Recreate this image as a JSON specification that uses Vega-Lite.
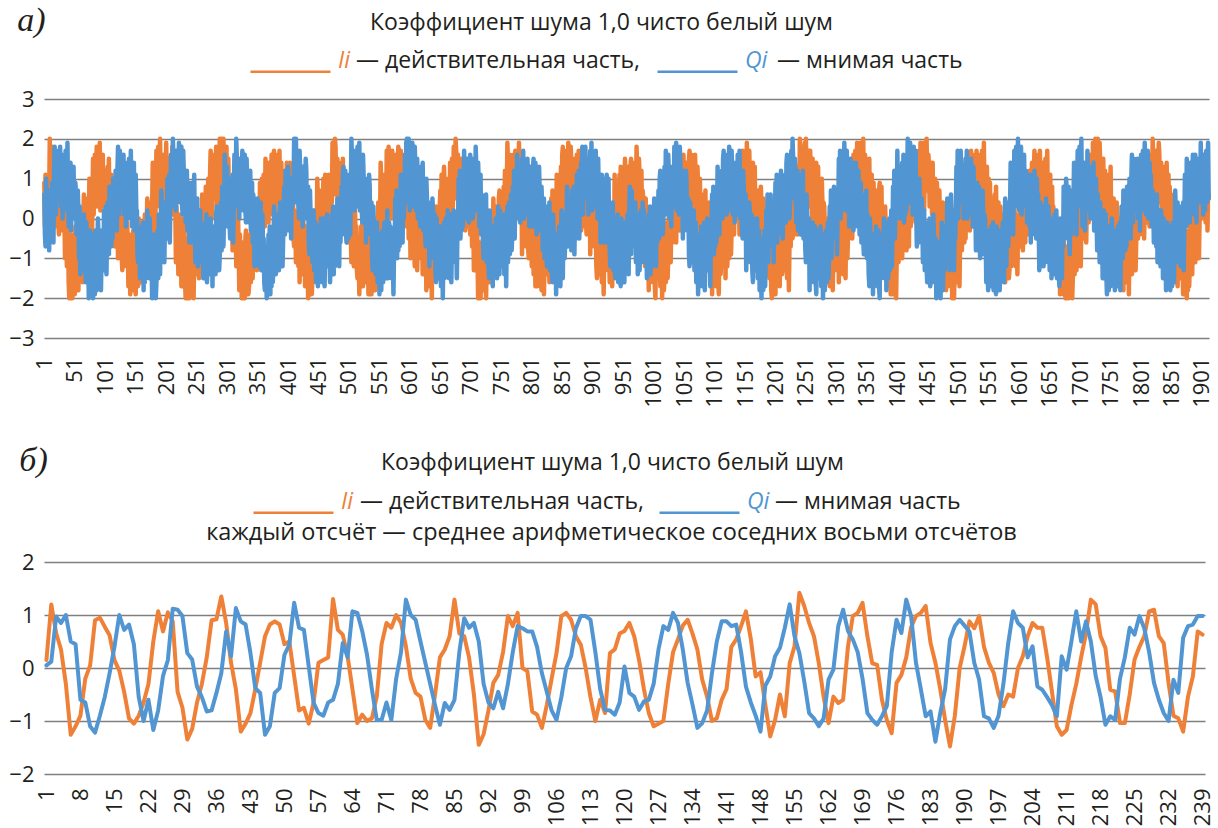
{
  "$schema": "https://vega.github.io/schema/vega-lite/v6.json",
  "background": "white",
  "padding": {"left": 8, "top": 3, "right": 3, "bottom": 0},
  "spacing": 35,
  "resolve": {"scale": {"color": "independent", "strokeDash": "independent"}},
  "config": {
    "font": "Open Sans",
    "view": {"stroke": null},
    "axis": {"labelColor": "#231F20", "titleColor": "#231F20"}
  },
  "datasets": {
    "raw": [
{"n":1,"I":0.9,"Q":0.6},{"n":2,"I":-0.2,"Q":-0.4},{"n":3,"I":1.1,"Q":-0.7},{"n":4,"I":-0.6,"Q":1.0},{"n":5,"I":0.4,"Q":0.5},{"n":6,"I":-0.4,"Q":-0.1},{"n":7,"I":0.7,"Q":-0.5},{"n":8,"I":-0.3,"Q":0.4},
{"n":9,"I":0.6,"Q":-0.8},{"n":10,"I":2.0,"Q":0.7},{"n":11,"I":1.0,"Q":0.4},{"n":12,"I":1.6,"Q":-0.3},{"n":13,"I":0.3,"Q":-0.1},{"n":14,"I":1.8,"Q":0.9},{"n":15,"I":0.9,"Q":0.6},{"n":16,"I":1.4,"Q":-0.6},
{"n":17,"I":1.0,"Q":1.2},{"n":18,"I":-0.2,"Q":1.8},{"n":19,"I":1.3,"Q":0.4},{"n":20,"I":1.5,"Q":0.1},{"n":21,"I":0.2,"Q":1.7},{"n":22,"I":0.5,"Q":1.1},{"n":23,"I":1.4,"Q":0.6},{"n":24,"I":-0.1,"Q":1.1},
{"n":25,"I":-0.4,"Q":0.5},{"n":26,"I":0.5,"Q":0.7},{"n":27,"I":0.9,"Q":1.8},{"n":28,"I":-0.3,"Q":0.3},{"n":29,"I":1.3,"Q":1.2},{"n":30,"I":0.7,"Q":1.5},{"n":31,"I":-0.2,"Q":0.0},{"n":32,"I":0.7,"Q":1.2},
{"n":33,"I":0.6,"Q":1.6},{"n":34,"I":0.1,"Q":0.2},{"n":35,"I":-1.0,"Q":1.1},{"n":36,"I":-0.6,"Q":1.7},{"n":37,"I":0.3,"Q":0.4},{"n":38,"I":-1.2,"Q":0.6},{"n":39,"I":-0.2,"Q":1.9},{"n":40,"I":-0.4,"Q":0.5},
{"n":41,"I":-1.6,"Q":-0.2},{"n":42,"I":-2.0,"Q":1.0},{"n":43,"I":-0.5,"Q":0.1},{"n":44,"I":-1.1,"Q":1.4},{"n":45,"I":-1.7,"Q":-0.3},{"n":46,"I":-0.4,"Q":0.7},{"n":47,"I":-2.0,"Q":1.1},{"n":48,"I":-1.0,"Q":0.2},
{"n":49,"I":-0.6,"Q":1.3},{"n":50,"I":-1.6,"Q":0.2},{"n":51,"I":-1.9,"Q":0.0},{"n":52,"I":-0.2,"Q":0.9},{"n":53,"I":-0.7,"Q":0.6},{"n":54,"I":-1.3,"Q":-0.4},{"n":55,"I":-1.7,"Q":0.7},{"n":56,"I":-0.8,"Q":0.7},
{"n":57,"I":-1.8,"Q":0.1},{"n":58,"I":-0.3,"Q":-1.0},{"n":59,"I":-0.6,"Q":0.3},{"n":60,"I":-1.3,"Q":-1.4},{"n":61,"I":-1.1,"Q":-0.4},{"n":62,"I":-0.1,"Q":-1.2},{"n":63,"I":-0.4,"Q":-0.1},{"n":64,"I":-1.6,"Q":-1.1},
{"n":65,"I":0.0,"Q":-1.3},{"n":66,"I":0.6,"Q":0.1},{"n":67,"I":-0.8,"Q":-0.9},{"n":68,"I":-1.1,"Q":-0.3},{"n":69,"I":0.5,"Q":-1.6},{"n":70,"I":-0.1,"Q":-0.1},{"n":71,"I":-0.6,"Q":-1.0},{"n":72,"I":-0.1,"Q":-0.5},
{"n":73,"I":-0.3,"Q":-0.8},{"n":74,"I":-0.1,"Q":-2.0},{"n":75,"I":1.0,"Q":-0.5},{"n":76,"I":-0.5,"Q":-0.3},{"n":77,"I":0.4,"Q":-1.6},{"n":78,"I":0.7,"Q":-1.3},{"n":79,"I":-0.8,"Q":-0.4},{"n":80,"I":0.4,"Q":-1.9},
{"n":81,"I":1.5,"Q":-2.0},{"n":82,"I":0.1,"Q":-1.1},{"n":83,"I":1.0,"Q":-0.7},{"n":84,"I":1.6,"Q":-1.9},{"n":85,"I":0.3,"Q":-0.3},{"n":86,"I":0.5,"Q":-0.9},{"n":87,"I":1.8,"Q":-1.8},{"n":88,"I":0.4,"Q":-0.9},
{"n":89,"I":0.3,"Q":0.0},{"n":90,"I":1.5,"Q":-0.5},{"n":91,"I":0.6,"Q":-1.6},{"n":92,"I":1.9,"Q":-1.2},{"n":93,"I":0.2,"Q":-0.3},{"n":94,"I":1.2,"Q":-1.8},{"n":95,"I":1.6,"Q":-0.8},{"n":96,"I":0.7,"Q":-1.0},
{"n":97,"I":1.6,"Q":-0.9},{"n":98,"I":0.5,"Q":-1.3},{"n":99,"I":0.3,"Q":0.2},{"n":100,"I":1.2,"Q":-0.4},{"n":101,"I":0.9,"Q":-1.0},{"n":102,"I":-0.1,"Q":0.3},{"n":103,"I":1.0,"Q":-1.4},{"n":104,"I":1.0,"Q":-0.3},
{"n":105,"I":1.3,"Q":0.4},{"n":106,"I":0.2,"Q":-0.6},{"n":107,"I":1.5,"Q":-0.9},{"n":108,"I":-0.2,"Q":0.8},{"n":109,"I":0.8,"Q":0.3},{"n":110,"I":0.0,"Q":-0.3},{"n":111,"I":1.1,"Q":-0.7},{"n":112,"I":0.1,"Q":0.2},
{"n":113,"I":-0.4,"Q":-0.5},{"n":114,"I":1.0,"Q":1.0},{"n":115,"I":0.0,"Q":0.7},{"n":116,"I":0.6,"Q":0.0},{"n":117,"I":-0.7,"Q":0.2},{"n":118,"I":0.8,"Q":1.2},{"n":119,"I":-0.1,"Q":0.9},{"n":120,"I":0.4,"Q":-0.3},
{"n":121,"I":0.2,"Q":1.2},{"n":122,"I":-1.0,"Q":1.8},{"n":123,"I":0.5,"Q":0.4},{"n":124,"I":0.7,"Q":0.1},{"n":125,"I":-0.6,"Q":1.7},{"n":126,"I":-0.3,"Q":1.1},{"n":127,"I":0.6,"Q":0.6},{"n":128,"I":-0.9,"Q":1.1},
{"n":129,"I":-1.3,"Q":0.3},{"n":130,"I":-0.4,"Q":0.5},{"n":131,"I":0.0,"Q":1.6},{"n":132,"I":-1.2,"Q":0.1},{"n":133,"I":0.4,"Q":1.0},{"n":134,"I":-0.2,"Q":1.3},{"n":135,"I":-1.1,"Q":-0.2},{"n":136,"I":-0.2,"Q":1.0},
{"n":137,"I":-0.1,"Q":1.4},{"n":138,"I":-0.6,"Q":0.0},{"n":139,"I":-1.7,"Q":0.9},{"n":140,"I":-1.3,"Q":1.5},{"n":141,"I":-0.4,"Q":0.2},{"n":142,"I":-1.9,"Q":0.4},{"n":143,"I":-0.9,"Q":1.7},{"n":144,"I":-1.1,"Q":0.3},
{"n":145,"I":-1.4,"Q":-0.2},{"n":146,"I":-1.8,"Q":1.0},{"n":147,"I":-0.3,"Q":0.1},{"n":148,"I":-0.9,"Q":1.4},{"n":149,"I":-1.5,"Q":-0.3},{"n":150,"I":-0.2,"Q":0.7},{"n":151,"I":-1.9,"Q":1.1},{"n":152,"I":-0.8,"Q":0.2},
{"n":153,"I":-0.4,"Q":0.2},{"n":154,"I":-1.4,"Q":-0.9},{"n":155,"I":-1.7,"Q":-1.1},{"n":156,"I":0.0,"Q":-0.2},{"n":157,"I":-0.5,"Q":-0.5},{"n":158,"I":-1.1,"Q":-1.5},{"n":159,"I":-1.5,"Q":-0.4},{"n":160,"I":-0.6,"Q":-0.4},
{"n":161,"I":-1.6,"Q":-0.3},{"n":162,"I":-0.1,"Q":-1.4},{"n":163,"I":-0.4,"Q":-0.1},{"n":164,"I":-1.1,"Q":-1.8},{"n":165,"I":-0.9,"Q":-0.8},{"n":166,"I":0.1,"Q":-1.6},{"n":167,"I":-0.2,"Q":-0.5},{"n":168,"I":-1.4,"Q":-1.5},
{"n":169,"I":-0.1,"Q":-1.2},{"n":170,"I":0.5,"Q":0.2},{"n":171,"I":-0.9,"Q":-0.8},{"n":172,"I":-1.2,"Q":-0.2},{"n":173,"I":0.4,"Q":-1.5},{"n":174,"I":-0.2,"Q":0.0},{"n":175,"I":-0.7,"Q":-0.9},{"n":176,"I":-0.2,"Q":-0.4},
{"n":177,"I":0.1,"Q":-0.9},{"n":178,"I":0.3,"Q":-2.0},{"n":179,"I":1.4,"Q":-0.6},{"n":180,"I":-0.1,"Q":-0.4},{"n":181,"I":0.8,"Q":-1.7},{"n":182,"I":1.1,"Q":-1.4},{"n":183,"I":-0.4,"Q":-0.5},{"n":184,"I":0.8,"Q":-2.0},
{"n":185,"I":1.7,"Q":-1.6},{"n":186,"I":0.3,"Q":-0.7},{"n":187,"I":1.2,"Q":-0.3},{"n":188,"I":1.8,"Q":-1.5},{"n":189,"I":0.5,"Q":0.1},{"n":190,"I":0.7,"Q":-0.5},{"n":191,"I":2.0,"Q":-1.4},{"n":192,"I":0.6,"Q":-0.5},
{"n":193,"I":0.0,"Q":0.7},{"n":194,"I":1.2,"Q":0.2},{"n":195,"I":0.3,"Q":-0.9},{"n":196,"I":1.6,"Q":-0.5},{"n":197,"I":-0.1,"Q":0.4},{"n":198,"I":0.9,"Q":-1.1},{"n":199,"I":1.3,"Q":-0.1},{"n":200,"I":0.4,"Q":-0.3},
{"n":201,"I":1.9,"Q":-0.1},{"n":202,"I":0.8,"Q":-0.5},{"n":203,"I":0.6,"Q":1.0},{"n":204,"I":1.5,"Q":0.4},{"n":205,"I":1.2,"Q":-0.2},{"n":206,"I":0.2,"Q":1.1},{"n":207,"I":1.3,"Q":-0.6},{"n":208,"I":1.3,"Q":0.5},
{"n":209,"I":1.6,"Q":1.6},{"n":210,"I":0.5,"Q":0.6},{"n":211,"I":1.8,"Q":0.3},{"n":212,"I":0.1,"Q":2.0},{"n":213,"I":1.1,"Q":1.5},{"n":214,"I":0.3,"Q":0.9},{"n":215,"I":1.4,"Q":0.5},{"n":216,"I":0.4,"Q":1.4},
{"n":217,"I":-1.1,"Q":0.2},{"n":218,"I":0.3,"Q":1.7},{"n":219,"I":-0.7,"Q":1.4},{"n":220,"I":-0.1,"Q":0.7},{"n":221,"I":-1.4,"Q":0.9},{"n":222,"I":0.1,"Q":1.9},{"n":223,"I":-0.8,"Q":1.6},{"n":224,"I":-0.3,"Q":0.4},
{"n":225,"I":-0.5,"Q":1.2},{"n":226,"I":-1.7,"Q":1.8},{"n":227,"I":-0.2,"Q":0.4},{"n":228,"I":0.0,"Q":0.1},{"n":229,"I":-1.3,"Q":1.7},{"n":230,"I":-1.0,"Q":1.1},{"n":231,"I":-0.1,"Q":0.6},{"n":232,"I":-1.6,"Q":1.1},
{"n":233,"I":-2.0,"Q":-0.1},{"n":234,"I":-1.3,"Q":0.1},{"n":235,"I":-0.9,"Q":1.2},{"n":236,"I":-2.0,"Q":-0.3},{"n":237,"I":-0.5,"Q":0.6},{"n":238,"I":-1.1,"Q":0.9},{"n":239,"I":-2.0,"Q":-0.6},{"n":240,"I":-1.1,"Q":0.6},
{"n":241,"I":-0.3,"Q":0.8},{"n":242,"I":-0.8,"Q":-0.6},{"n":243,"I":-1.9,"Q":0.3},{"n":244,"I":-1.5,"Q":0.9},{"n":245,"I":-0.6,"Q":-0.4},{"n":246,"I":-2.0,"Q":-0.2},{"n":247,"I":-1.1,"Q":1.1},{"n":248,"I":-1.3,"Q":-0.3},
{"n":249,"I":-1.0,"Q":-1.1},{"n":250,"I":-1.4,"Q":0.1},{"n":251,"I":0.1,"Q":-0.8},{"n":252,"I":-0.5,"Q":0.5},{"n":253,"I":-1.1,"Q":-1.2},{"n":254,"I":0.2,"Q":-0.2},{"n":255,"I":-1.5,"Q":0.2},{"n":256,"I":-0.4,"Q":-0.7},
{"n":257,"I":0.2,"Q":0.2},{"n":258,"I":-0.8,"Q":-0.9},{"n":259,"I":-1.1,"Q":-1.1},{"n":260,"I":0.6,"Q":-0.2},{"n":261,"I":0.1,"Q":-0.5},{"n":262,"I":-0.5,"Q":-1.5},{"n":263,"I":-0.9,"Q":-0.4},{"n":264,"I":0.0,"Q":-0.4},
{"n":265,"I":-0.7,"Q":-0.1},{"n":266,"I":0.8,"Q":-1.2},{"n":267,"I":0.5,"Q":0.1},{"n":268,"I":-0.2,"Q":-1.6},{"n":269,"I":0.0,"Q":-0.6},{"n":270,"I":1.0,"Q":-1.4},{"n":271,"I":0.7,"Q":-0.3},{"n":272,"I":-0.5,"Q":-1.3},
{"n":273,"I":1.1,"Q":-1.4},{"n":274,"I":1.7,"Q":0.0},{"n":275,"I":0.3,"Q":-1.0},{"n":276,"I":0.0,"Q":-0.4},{"n":277,"I":1.6,"Q":-1.7},{"n":278,"I":1.0,"Q":-0.2},{"n":279,"I":0.5,"Q":-1.1},{"n":280,"I":1.0,"Q":-0.6},
{"n":281,"I":0.5,"Q":-0.2},{"n":282,"I":0.7,"Q":-1.4},{"n":283,"I":1.8,"Q":0.1},{"n":284,"I":0.3,"Q":0.3},{"n":285,"I":1.2,"Q":-1.0},{"n":286,"I":1.5,"Q":-0.7},{"n":287,"I":0.0,"Q":0.2},{"n":288,"I":1.2,"Q":-1.3},
{"n":289,"I":2.0,"Q":-0.9},{"n":290,"I":0.6,"Q":0.0},{"n":291,"I":1.5,"Q":0.4},{"n":292,"I":2.0,"Q":-0.8},{"n":293,"I":0.8,"Q":0.8},{"n":294,"I":1.0,"Q":0.2},{"n":295,"I":2.0,"Q":-0.7},{"n":296,"I":0.9,"Q":0.2},
{"n":297,"I":0.2,"Q":1.6},{"n":298,"I":1.4,"Q":1.1},{"n":299,"I":0.5,"Q":0.0},{"n":300,"I":1.8,"Q":0.4},{"n":301,"I":0.1,"Q":1.3},{"n":302,"I":1.1,"Q":-0.2},{"n":303,"I":1.5,"Q":0.8},{"n":304,"I":0.6,"Q":0.6},
{"n":305,"I":0.9,"Q":-0.1},{"n":306,"I":-0.2,"Q":-0.5},{"n":307,"I":-0.4,"Q":1.0},{"n":308,"I":0.5,"Q":0.4},{"n":309,"I":0.2,"Q":-0.2},{"n":310,"I":-0.8,"Q":1.1},{"n":311,"I":0.3,"Q":-0.6},{"n":312,"I":0.3,"Q":0.5},
{"n":313,"I":0.3,"Q":1.6},{"n":314,"I":-0.8,"Q":0.6},{"n":315,"I":0.5,"Q":0.3},{"n":316,"I":-1.2,"Q":2.0},{"n":317,"I":-0.2,"Q":1.5},{"n":318,"I":-1.0,"Q":0.9},{"n":319,"I":0.1,"Q":0.5},{"n":320,"I":-0.9,"Q":1.4},
{"n":321,"I":-1.8,"Q":0.0},{"n":322,"I":-0.4,"Q":1.5},{"n":323,"I":-1.4,"Q":1.2},{"n":324,"I":-0.8,"Q":0.5},{"n":325,"I":-2.0,"Q":0.7},{"n":326,"I":-0.6,"Q":1.7},{"n":327,"I":-1.5,"Q":1.4},{"n":328,"I":-1.0,"Q":0.2},
{"n":329,"I":-0.8,"Q":1.0},{"n":330,"I":-2.0,"Q":1.6},{"n":331,"I":-0.5,"Q":0.2},{"n":332,"I":-0.3,"Q":-0.1},{"n":333,"I":-1.6,"Q":1.5},{"n":334,"I":-1.3,"Q":0.9},{"n":335,"I":-0.4,"Q":0.4},{"n":336,"I":-1.9,"Q":0.9},
{"n":337,"I":-1.7,"Q":-0.1},{"n":338,"I":-0.8,"Q":0.1},{"n":339,"I":-0.4,"Q":1.2},{"n":340,"I":-1.6,"Q":-0.3},{"n":341,"I":0.0,"Q":0.6},{"n":342,"I":-0.6,"Q":0.9},{"n":343,"I":-1.5,"Q":-0.6},{"n":344,"I":-0.6,"Q":0.6},
{"n":345,"I":0.5,"Q":0.2},{"n":346,"I":0.0,"Q":-1.2},{"n":347,"I":-1.1,"Q":-0.3},{"n":348,"I":-0.7,"Q":0.3},{"n":349,"I":0.2,"Q":-1.0},{"n":350,"I":-1.3,"Q":-0.8},{"n":351,"I":-0.3,"Q":0.5},{"n":352,"I":-0.5,"Q":-0.9},
{"n":353,"I":-0.2,"Q":-1.2},{"n":354,"I":-0.6,"Q":0.0},{"n":355,"I":0.9,"Q":-0.9},{"n":356,"I":0.3,"Q":0.4},{"n":357,"I":-0.3,"Q":-1.3},{"n":358,"I":1.0,"Q":-0.3},{"n":359,"I":-0.7,"Q":0.1},{"n":360,"I":0.4,"Q":-0.8},
{"n":361,"I":1.1,"Q":-0.5},{"n":362,"I":0.1,"Q":-1.6},{"n":363,"I":-0.2,"Q":-1.8},{"n":364,"I":1.5,"Q":-0.9},{"n":365,"I":1.0,"Q":-1.2},{"n":366,"I":0.4,"Q":-2.0},{"n":367,"I":0.0,"Q":-1.1},{"n":368,"I":0.9,"Q":-1.1},
{"n":369,"I":-0.1,"Q":-0.4},{"n":370,"I":1.4,"Q":-1.5},{"n":371,"I":1.1,"Q":-0.2},{"n":372,"I":0.4,"Q":-1.9},{"n":373,"I":0.6,"Q":-0.9},{"n":374,"I":1.6,"Q":-1.7},{"n":375,"I":1.3,"Q":-0.6},{"n":376,"I":0.1,"Q":-1.6},
{"n":377,"I":1.1,"Q":-1.1},{"n":378,"I":1.7,"Q":0.3},{"n":379,"I":0.3,"Q":-0.7},{"n":380,"I":0.0,"Q":-0.1},{"n":381,"I":1.6,"Q":-1.4},{"n":382,"I":1.0,"Q":0.1},{"n":383,"I":0.5,"Q":-0.8},{"n":384,"I":1.0,"Q":-0.3},
{"n":385,"I":0.4,"Q":-0.1},{"n":386,"I":0.6,"Q":-1.3},{"n":387,"I":1.7,"Q":0.2},{"n":388,"I":0.2,"Q":0.4},{"n":389,"I":1.1,"Q":-0.9},{"n":390,"I":1.4,"Q":-0.6},{"n":391,"I":-0.1,"Q":0.3},{"n":392,"I":1.1,"Q":-1.2},
{"n":393,"I":1.1,"Q":-0.5},{"n":394,"I":-0.3,"Q":0.4},{"n":395,"I":0.6,"Q":0.8},{"n":396,"I":1.2,"Q":-0.4},{"n":397,"I":-0.1,"Q":1.2},{"n":398,"I":0.1,"Q":0.6},{"n":399,"I":1.4,"Q":-0.3},{"n":400,"I":0.0,"Q":0.6},
{"n":401,"I":-0.2,"Q":1.3},{"n":402,"I":1.0,"Q":0.8},{"n":403,"I":0.1,"Q":-0.3},{"n":404,"I":1.4,"Q":0.1},{"n":405,"I":-0.3,"Q":1.0},{"n":406,"I":0.7,"Q":-0.5},{"n":407,"I":1.1,"Q":0.5},{"n":408,"I":0.2,"Q":0.3},
{"n":409,"I":0.6,"Q":0.9},{"n":410,"I":-0.5,"Q":0.5},{"n":411,"I":-0.7,"Q":2.0},{"n":412,"I":0.2,"Q":1.4},{"n":413,"I":-0.1,"Q":0.8},{"n":414,"I":-1.1,"Q":2.0},{"n":415,"I":0.0,"Q":0.4},{"n":416,"I":0.0,"Q":1.5},
{"n":417,"I":-0.1,"Q":1.3},{"n":418,"I":-1.2,"Q":0.3},{"n":419,"I":0.1,"Q":0.0},{"n":420,"I":-1.6,"Q":1.7},{"n":421,"I":-0.6,"Q":1.2},{"n":422,"I":-1.4,"Q":0.6},{"n":423,"I":-0.3,"Q":0.2},{"n":424,"I":-1.3,"Q":1.1},
{"n":425,"I":-1.4,"Q":-0.2},{"n":426,"I":0.0,"Q":1.3},{"n":427,"I":-1.0,"Q":1.0},{"n":428,"I":-0.4,"Q":0.3},{"n":429,"I":-1.7,"Q":0.5},{"n":430,"I":-0.2,"Q":1.5},{"n":431,"I":-1.1,"Q":1.2},{"n":432,"I":-0.6,"Q":0.0},
{"n":433,"I":-0.8,"Q":0.2},{"n":434,"I":-2.0,"Q":0.8},{"n":435,"I":-0.5,"Q":-0.6},{"n":436,"I":-0.3,"Q":-0.9},{"n":437,"I":-1.6,"Q":0.7},{"n":438,"I":-1.3,"Q":0.1},{"n":439,"I":-0.4,"Q":-0.4},{"n":440,"I":-1.9,"Q":0.1},
{"n":441,"I":-1.5,"Q":-1.1},{"n":442,"I":-0.6,"Q":-0.9},{"n":443,"I":-0.2,"Q":0.2},{"n":444,"I":-1.4,"Q":-1.3},{"n":445,"I":0.2,"Q":-0.4},{"n":446,"I":-0.4,"Q":-0.1},{"n":447,"I":-1.3,"Q":-1.6},{"n":448,"I":-0.4,"Q":-0.4},
{"n":449,"I":1.0,"Q":-0.3},{"n":450,"I":0.5,"Q":-1.7},{"n":451,"I":-0.6,"Q":-0.8},{"n":452,"I":-0.2,"Q":-0.2},{"n":453,"I":0.7,"Q":-1.5},{"n":454,"I":-0.8,"Q":-1.3},{"n":455,"I":0.2,"Q":0.0},{"n":456,"I":0.0,"Q":-1.4},
{"n":457,"I":-0.1,"Q":-1.6},{"n":458,"I":-0.5,"Q":-0.4},{"n":459,"I":1.0,"Q":-1.3},{"n":460,"I":0.4,"Q":0.0},{"n":461,"I":-0.2,"Q":-1.7},{"n":462,"I":1.1,"Q":-0.7},{"n":463,"I":-0.6,"Q":-0.3},{"n":464,"I":0.5,"Q":-1.2},
{"n":465,"I":0.7,"Q":0.1},{"n":466,"I":-0.3,"Q":-1.0},{"n":467,"I":-0.6,"Q":-1.2},{"n":468,"I":1.1,"Q":-0.3},{"n":469,"I":0.6,"Q":-0.6},{"n":470,"I":0.0,"Q":-1.6},{"n":471,"I":-0.4,"Q":-0.5},{"n":472,"I":0.5,"Q":-0.5},
{"n":473,"I":0.4,"Q":0.1},{"n":474,"I":1.9,"Q":-1.0},{"n":475,"I":1.6,"Q":0.3},{"n":476,"I":0.9,"Q":-1.4},{"n":477,"I":1.1,"Q":-0.4},{"n":478,"I":2.0,"Q":-1.2},{"n":479,"I":1.8,"Q":-0.1},{"n":480,"I":0.6,"Q":-1.1},
{"n":481,"I":0.9,"Q":-0.9},{"n":482,"I":1.5,"Q":0.5},{"n":483,"I":0.1,"Q":-0.5},{"n":484,"I":-0.2,"Q":0.1},{"n":485,"I":1.4,"Q":-1.2},{"n":486,"I":0.8,"Q":0.3},{"n":487,"I":0.3,"Q":-0.6},{"n":488,"I":0.8,"Q":-0.1},
{"n":489,"I":0.2,"Q":0.8},{"n":490,"I":0.4,"Q":-0.4},{"n":491,"I":1.5,"Q":1.1},{"n":492,"I":0.0,"Q":1.3},{"n":493,"I":0.9,"Q":0.0},{"n":494,"I":1.2,"Q":0.3},{"n":495,"I":-0.3,"Q":1.2},{"n":496,"I":0.9,"Q":-0.3},
{"n":497,"I":0.8,"Q":-0.6},{"n":498,"I":-0.6,"Q":0.3},{"n":499,"I":0.3,"Q":0.7},{"n":500,"I":0.9,"Q":-0.5},{"n":501,"I":-0.4,"Q":1.1},{"n":502,"I":-0.2,"Q":0.5},{"n":503,"I":1.1,"Q":-0.4},{"n":504,"I":-0.3,"Q":0.5},
{"n":505,"I":-1.1,"Q":2.0},{"n":506,"I":0.1,"Q":1.5},{"n":507,"I":-0.8,"Q":0.4},{"n":508,"I":0.5,"Q":0.8},{"n":509,"I":-1.2,"Q":1.7},{"n":510,"I":-0.2,"Q":0.2},{"n":511,"I":0.2,"Q":1.2},{"n":512,"I":-0.7,"Q":1.0},
{"n":513,"I":-0.2,"Q":0.7},{"n":514,"I":-1.3,"Q":0.3},{"n":515,"I":-1.5,"Q":1.8},{"n":516,"I":-0.6,"Q":1.2},{"n":517,"I":-0.9,"Q":0.6},{"n":518,"I":-1.9,"Q":1.9},{"n":519,"I":-0.8,"Q":0.2},{"n":520,"I":-0.8,"Q":1.3},
{"n":521,"I":-0.2,"Q":1.2},{"n":522,"I":-1.3,"Q":0.2},{"n":523,"I":0.0,"Q":-0.1},{"n":524,"I":-1.7,"Q":1.6},{"n":525,"I":-0.7,"Q":1.1},{"n":526,"I":-1.5,"Q":0.5},{"n":527,"I":-0.4,"Q":0.1},{"n":528,"I":-1.4,"Q":1.0},
{"n":529,"I":-1.6,"Q":-0.6},{"n":530,"I":-0.2,"Q":0.9},{"n":531,"I":-1.2,"Q":0.6},{"n":532,"I":-0.6,"Q":-0.1},{"n":533,"I":-1.9,"Q":0.1},{"n":534,"I":-0.4,"Q":1.1},{"n":535,"I":-1.3,"Q":0.8},{"n":536,"I":-0.8,"Q":-0.4},
{"n":537,"I":-0.7,"Q":-0.2},{"n":538,"I":-1.9,"Q":0.4},{"n":539,"I":-0.4,"Q":-1.0},{"n":540,"I":-0.2,"Q":-1.3},{"n":541,"I":-1.5,"Q":0.3},{"n":542,"I":-1.2,"Q":-0.3},{"n":543,"I":-0.3,"Q":-0.8},{"n":544,"I":-1.8,"Q":-0.3},
{"n":545,"I":-1.3,"Q":-1.4},{"n":546,"I":-0.4,"Q":-1.2},{"n":547,"I":0.0,"Q":-0.1},{"n":548,"I":-1.2,"Q":-1.6},{"n":549,"I":0.4,"Q":-0.7},{"n":550,"I":-0.2,"Q":-0.4},{"n":551,"I":-1.1,"Q":-1.9},{"n":552,"I":-0.2,"Q":-0.7},
{"n":553,"I":1.4,"Q":-0.4},{"n":554,"I":0.9,"Q":-1.8},{"n":555,"I":-0.2,"Q":-0.9},{"n":556,"I":0.2,"Q":-0.3},{"n":557,"I":1.1,"Q":-1.6},{"n":558,"I":-0.4,"Q":-1.4},{"n":559,"I":0.6,"Q":-0.1},{"n":560,"I":0.4,"Q":-1.5},
{"n":561,"I":0.6,"Q":-1.4},{"n":562,"I":0.2,"Q":-0.2},{"n":563,"I":1.7,"Q":-1.1},{"n":564,"I":1.1,"Q":0.2},{"n":565,"I":0.5,"Q":-1.5},{"n":566,"I":1.8,"Q":-0.5},{"n":567,"I":0.1,"Q":-0.1},{"n":568,"I":1.2,"Q":-1.0},
{"n":569,"I":1.3,"Q":-0.2},{"n":570,"I":0.3,"Q":-1.3},{"n":571,"I":0.0,"Q":-1.5},{"n":572,"I":1.7,"Q":-0.6},{"n":573,"I":1.2,"Q":-0.9},{"n":574,"I":0.6,"Q":-1.9},{"n":575,"I":0.2,"Q":-0.8},{"n":576,"I":1.1,"Q":-0.8},
{"n":577,"I":0.1,"Q":0.5},{"n":578,"I":1.6,"Q":-0.6},{"n":579,"I":1.3,"Q":0.7},{"n":580,"I":0.6,"Q":-1.0},{"n":581,"I":0.8,"Q":0.0},{"n":582,"I":1.8,"Q":-0.8},{"n":583,"I":1.5,"Q":0.3},{"n":584,"I":0.3,"Q":-0.7},
{"n":585,"I":1.1,"Q":-0.3},{"n":586,"I":1.7,"Q":1.1},{"n":587,"I":0.3,"Q":0.1},{"n":588,"I":0.0,"Q":0.7},{"n":589,"I":1.6,"Q":-0.6},{"n":590,"I":1.0,"Q":0.9},{"n":591,"I":0.5,"Q":0.0},{"n":592,"I":1.0,"Q":0.5},
{"n":593,"I":0.0,"Q":1.6},{"n":594,"I":0.2,"Q":0.4},{"n":595,"I":1.3,"Q":1.9},{"n":596,"I":-0.2,"Q":2.0},{"n":597,"I":0.7,"Q":0.8},{"n":598,"I":1.0,"Q":1.1},{"n":599,"I":-0.5,"Q":2.0},{"n":600,"I":0.7,"Q":0.5},
{"n":601,"I":0.4,"Q":0.2},{"n":602,"I":-1.0,"Q":1.1},{"n":603,"I":-0.1,"Q":1.5},{"n":604,"I":0.5,"Q":0.3},{"n":605,"I":-0.8,"Q":1.9},{"n":606,"I":-0.6,"Q":1.3},{"n":607,"I":0.7,"Q":0.4},{"n":608,"I":-0.7,"Q":1.3},
{"n":609,"I":-1.2,"Q":1.8},{"n":610,"I":0.0,"Q":1.3},{"n":611,"I":-0.9,"Q":0.2},{"n":612,"I":0.4,"Q":0.6},{"n":613,"I":-1.3,"Q":1.5},{"n":614,"I":-0.3,"Q":0.0},{"n":615,"I":0.1,"Q":1.0},{"n":616,"I":-0.8,"Q":0.8},
{"n":617,"I":0.3,"Q":0.2},{"n":618,"I":-0.8,"Q":-0.2},{"n":619,"I":-1.0,"Q":1.3},{"n":620,"I":-0.1,"Q":0.7},{"n":621,"I":-0.4,"Q":0.1},{"n":622,"I":-1.4,"Q":1.4},{"n":623,"I":-0.3,"Q":-0.3},{"n":624,"I":-0.3,"Q":0.8},
{"n":625,"I":-0.3,"Q":0.6},{"n":626,"I":-1.4,"Q":-0.4},{"n":627,"I":-0.1,"Q":-0.7},{"n":628,"I":-1.8,"Q":1.0},{"n":629,"I":-0.8,"Q":0.5},{"n":630,"I":-1.6,"Q":-0.1},{"n":631,"I":-0.5,"Q":-0.5},{"n":632,"I":-1.5,"Q":0.4},
{"n":633,"I":-1.7,"Q":-1.2},{"n":634,"I":-0.3,"Q":0.3},{"n":635,"I":-1.3,"Q":0.0},{"n":636,"I":-0.7,"Q":-0.7},{"n":637,"I":-2.0,"Q":-0.5},{"n":638,"I":-0.5,"Q":0.5},{"n":639,"I":-1.4,"Q":0.2},{"n":640,"I":-0.9,"Q":-1.0},
{"n":641,"I":-0.2,"Q":-0.5},{"n":642,"I":-1.4,"Q":0.1},{"n":643,"I":0.1,"Q":-1.3},{"n":644,"I":0.3,"Q":-1.6},{"n":645,"I":-1.0,"Q":0.0},{"n":646,"I":-0.7,"Q":-0.6},{"n":647,"I":0.2,"Q":-1.1},{"n":648,"I":-1.3,"Q":-0.6},
{"n":649,"I":-0.6,"Q":-1.5},{"n":650,"I":0.3,"Q":-1.3},{"n":651,"I":0.7,"Q":-0.2},{"n":652,"I":-0.5,"Q":-1.7},{"n":653,"I":1.1,"Q":-0.8},{"n":654,"I":0.5,"Q":-0.5},{"n":655,"I":-0.4,"Q":-2.0},{"n":656,"I":0.5,"Q":-0.8},
{"n":657,"I":1.3,"Q":-0.1},{"n":658,"I":0.8,"Q":-1.5},{"n":659,"I":-0.3,"Q":-0.6},{"n":660,"I":0.1,"Q":0.0},{"n":661,"I":1.0,"Q":-1.3},{"n":662,"I":-0.5,"Q":-1.1},{"n":663,"I":0.5,"Q":0.2},{"n":664,"I":0.3,"Q":-1.2},
{"n":665,"I":0.3,"Q":-1.5},{"n":666,"I":-0.1,"Q":-0.3},{"n":667,"I":1.4,"Q":-1.2},{"n":668,"I":0.8,"Q":0.1},{"n":669,"I":0.2,"Q":-1.6},{"n":670,"I":1.5,"Q":-0.6},{"n":671,"I":-0.2,"Q":-0.2},{"n":672,"I":0.9,"Q":-1.1},
{"n":673,"I":1.8,"Q":0.2},{"n":674,"I":0.8,"Q":-0.9},{"n":675,"I":0.5,"Q":-1.1},{"n":676,"I":2.0,"Q":-0.2},{"n":677,"I":1.7,"Q":-0.5},{"n":678,"I":1.1,"Q":-1.5},{"n":679,"I":0.7,"Q":-0.4},{"n":680,"I":1.6,"Q":-0.4},
{"n":681,"I":-0.2,"Q":1.0},{"n":682,"I":1.3,"Q":-0.1},{"n":683,"I":1.0,"Q":1.2},{"n":684,"I":0.3,"Q":-0.5},{"n":685,"I":0.5,"Q":0.5},{"n":686,"I":1.5,"Q":-0.3},{"n":687,"I":1.2,"Q":0.8},{"n":688,"I":0.0,"Q":-0.2},
{"n":689,"I":0.8,"Q":0.3},{"n":690,"I":1.4,"Q":1.7},{"n":691,"I":0.0,"Q":0.7},{"n":692,"I":-0.3,"Q":1.3},{"n":693,"I":1.3,"Q":0.0},{"n":694,"I":0.7,"Q":1.5},{"n":695,"I":0.2,"Q":0.6},{"n":696,"I":0.7,"Q":1.1},
{"n":697,"I":-0.2,"Q":1.1},{"n":698,"I":0.0,"Q":-0.1},{"n":699,"I":1.1,"Q":1.4},{"n":700,"I":-0.4,"Q":1.6},{"n":701,"I":0.5,"Q":0.3},{"n":702,"I":0.8,"Q":0.6},{"n":703,"I":-0.7,"Q":1.5},{"n":704,"I":0.5,"Q":0.0},
{"n":705,"I":0.1,"Q":0.1},{"n":706,"I":-1.3,"Q":1.0},{"n":707,"I":-0.4,"Q":1.4},{"n":708,"I":0.2,"Q":0.2},{"n":709,"I":-1.1,"Q":1.8},{"n":710,"I":-0.9,"Q":1.2},{"n":711,"I":0.4,"Q":0.3},{"n":712,"I":-1.0,"Q":1.2},
{"n":713,"I":-2.0,"Q":1.4},{"n":714,"I":-1.0,"Q":0.9},{"n":715,"I":-1.9,"Q":-0.2},{"n":716,"I":-0.6,"Q":0.2},{"n":717,"I":-2.0,"Q":1.1},{"n":718,"I":-1.3,"Q":-0.4},{"n":719,"I":-0.9,"Q":0.6},{"n":720,"I":-1.8,"Q":0.4},
{"n":721,"I":-0.5,"Q":-0.6},{"n":722,"I":-1.6,"Q":-1.0},{"n":723,"I":-1.8,"Q":0.5},{"n":724,"I":-0.9,"Q":-0.1},{"n":725,"I":-1.2,"Q":-0.7},{"n":726,"I":-2.0,"Q":0.6},{"n":727,"I":-1.1,"Q":-1.1},{"n":728,"I":-1.1,"Q":0.0},
{"n":729,"I":-0.1,"Q":-0.2},{"n":730,"I":-1.2,"Q":-1.2},{"n":731,"I":0.1,"Q":-1.5},{"n":732,"I":-1.6,"Q":0.2},{"n":733,"I":-0.6,"Q":-0.3},{"n":734,"I":-1.4,"Q":-0.9},{"n":735,"I":-0.3,"Q":-1.3},{"n":736,"I":-1.3,"Q":-0.4},
{"n":737,"I":-0.9,"Q":-1.7},{"n":738,"I":0.5,"Q":-0.2},{"n":739,"I":-0.5,"Q":-0.5},{"n":740,"I":0.1,"Q":-1.2},{"n":741,"I":-1.2,"Q":-1.0},{"n":742,"I":0.3,"Q":0.0},{"n":743,"I":-0.6,"Q":-0.3},{"n":744,"I":-0.1,"Q":-1.5},
{"n":745,"I":0.2,"Q":-0.3},{"n":746,"I":-1.0,"Q":0.3},{"n":747,"I":0.5,"Q":-1.1},{"n":748,"I":0.7,"Q":-1.4},{"n":749,"I":-0.6,"Q":0.2},{"n":750,"I":-0.3,"Q":-0.4},{"n":751,"I":0.6,"Q":-0.9},{"n":752,"I":-0.9,"Q":-0.4},
{"n":753,"I":-0.5,"Q":-1.2},{"n":754,"I":0.4,"Q":-1.0},{"n":755,"I":0.8,"Q":0.1},{"n":756,"I":-0.4,"Q":-1.4},{"n":757,"I":1.2,"Q":-0.5},{"n":758,"I":0.6,"Q":-0.2},{"n":759,"I":-0.3,"Q":-1.7},{"n":760,"I":0.6,"Q":-0.5},
{"n":761,"I":1.9,"Q":0.3},{"n":762,"I":1.4,"Q":-1.1},{"n":763,"I":0.3,"Q":-0.2},{"n":764,"I":0.7,"Q":0.4},{"n":765,"I":1.6,"Q":-0.9},{"n":766,"I":0.1,"Q":-0.7},{"n":767,"I":1.1,"Q":0.6},{"n":768,"I":0.9,"Q":-0.8},
{"n":769,"I":0.5,"Q":-0.4},{"n":770,"I":0.1,"Q":0.8},{"n":771,"I":1.6,"Q":-0.1},{"n":772,"I":1.0,"Q":1.2},{"n":773,"I":0.4,"Q":-0.5},{"n":774,"I":1.7,"Q":0.5},{"n":775,"I":0.0,"Q":0.9},{"n":776,"I":1.1,"Q":0.0},
{"n":777,"I":1.5,"Q":1.6},{"n":778,"I":0.5,"Q":0.5},{"n":779,"I":0.2,"Q":0.3},{"n":780,"I":1.9,"Q":1.2},{"n":781,"I":1.4,"Q":0.9},{"n":782,"I":0.8,"Q":-0.1},{"n":783,"I":0.4,"Q":1.0},{"n":784,"I":1.3,"Q":1.0},
{"n":785,"I":-0.9,"Q":1.5},{"n":786,"I":0.6,"Q":0.4},{"n":787,"I":0.3,"Q":1.7},{"n":788,"I":-0.4,"Q":0.0},{"n":789,"I":-0.2,"Q":1.0},{"n":790,"I":0.8,"Q":0.2},{"n":791,"I":0.5,"Q":1.3},{"n":792,"I":-0.7,"Q":0.3},
{"n":793,"I":0.1,"Q":0.1},{"n":794,"I":0.7,"Q":1.5},{"n":795,"I":-0.7,"Q":0.5},{"n":796,"I":-1.0,"Q":1.1},{"n":797,"I":0.6,"Q":-0.2},{"n":798,"I":0.0,"Q":1.3},{"n":799,"I":-0.5,"Q":0.4},{"n":800,"I":0.0,"Q":0.9},
{"n":801,"I":-1.2,"Q":1.0},{"n":802,"I":-1.0,"Q":-0.2},{"n":803,"I":0.1,"Q":1.3},{"n":804,"I":-1.4,"Q":1.5},{"n":805,"I":-0.5,"Q":0.2},{"n":806,"I":-0.2,"Q":0.5},{"n":807,"I":-1.7,"Q":1.4},{"n":808,"I":-0.5,"Q":-0.1},
{"n":809,"I":-0.3,"Q":-0.4},{"n":810,"I":-1.7,"Q":0.5},{"n":811,"I":-0.8,"Q":0.9},{"n":812,"I":-0.2,"Q":-0.3},{"n":813,"I":-1.5,"Q":1.3},{"n":814,"I":-1.3,"Q":0.7},{"n":815,"I":0.0,"Q":-0.2},{"n":816,"I":-1.4,"Q":0.7},
{"n":817,"I":-1.8,"Q":0.8},{"n":818,"I":-0.6,"Q":0.3},{"n":819,"I":-1.5,"Q":-0.8},{"n":820,"I":-0.2,"Q":-0.4},{"n":821,"I":-1.9,"Q":0.5},{"n":822,"I":-0.9,"Q":-1.0},{"n":823,"I":-0.5,"Q":0.0},{"n":824,"I":-1.4,"Q":-0.2},
{"n":825,"I":0.1,"Q":-0.8},{"n":826,"I":-1.0,"Q":-1.2},{"n":827,"I":-1.2,"Q":0.3},{"n":828,"I":-0.3,"Q":-0.3},{"n":829,"I":-0.6,"Q":-0.9},{"n":830,"I":-1.6,"Q":0.4},{"n":831,"I":-0.5,"Q":-1.3},{"n":832,"I":-0.5,"Q":-0.2},
{"n":833,"I":0.5,"Q":-0.3},{"n":834,"I":-0.6,"Q":-1.3},{"n":835,"I":0.7,"Q":-1.6},{"n":836,"I":-1.0,"Q":0.1},{"n":837,"I":0.0,"Q":-0.4},{"n":838,"I":-0.8,"Q":-1.0},{"n":839,"I":0.3,"Q":-1.4},{"n":840,"I":-0.7,"Q":-0.5},
{"n":841,"I":-0.3,"Q":-1.9},{"n":842,"I":1.1,"Q":-0.4},{"n":843,"I":0.1,"Q":-0.7},{"n":844,"I":0.7,"Q":-1.4},{"n":845,"I":-0.6,"Q":-1.2},{"n":846,"I":0.9,"Q":-0.2},{"n":847,"I":0.0,"Q":-0.5},{"n":848,"I":0.5,"Q":-1.7},
{"n":849,"I":1.3,"Q":-0.4},{"n":850,"I":0.1,"Q":0.2},{"n":851,"I":1.6,"Q":-1.2},{"n":852,"I":1.8,"Q":-1.5},{"n":853,"I":0.5,"Q":0.1},{"n":854,"I":0.8,"Q":-0.5},{"n":855,"I":1.7,"Q":-1.0},{"n":856,"I":0.2,"Q":-0.5},
{"n":857,"I":0.2,"Q":-0.4},{"n":858,"I":1.1,"Q":-0.2},{"n":859,"I":1.5,"Q":0.8},{"n":860,"I":0.3,"Q":-0.7},{"n":861,"I":1.9,"Q":0.5},{"n":862,"I":1.3,"Q":0.1},{"n":863,"I":0.4,"Q":-0.3},{"n":864,"I":1.3,"Q":-0.2},
{"n":865,"I":1.8,"Q":-0.2},{"n":866,"I":1.3,"Q":-0.8},{"n":867,"I":0.2,"Q":0.7},{"n":868,"I":0.6,"Q":0.1},{"n":869,"I":1.5,"Q":-0.5},{"n":870,"I":0.0,"Q":0.8},{"n":871,"I":1.0,"Q":-0.9},{"n":872,"I":0.8,"Q":0.2},
{"n":873,"I":0.5,"Q":-0.1},{"n":874,"I":0.1,"Q":-0.5},{"n":875,"I":1.6,"Q":1.1},{"n":876,"I":1.0,"Q":0.5},{"n":877,"I":0.4,"Q":-0.1},{"n":878,"I":1.7,"Q":1.2},{"n":879,"I":0.0,"Q":-0.5},{"n":880,"I":1.1,"Q":0.6},
{"n":881,"I":0.9,"Q":0.2},{"n":882,"I":-0.3,"Q":1.4},{"n":883,"I":1.2,"Q":0.5},{"n":884,"I":1.4,"Q":1.8},{"n":885,"I":0.1,"Q":0.1},{"n":886,"I":0.4,"Q":1.0},{"n":887,"I":1.3,"Q":1.4},{"n":888,"I":-0.2,"Q":0.5},
{"n":889,"I":0.9,"Q":1.8},{"n":890,"I":-0.1,"Q":0.7},{"n":891,"I":-0.4,"Q":0.5},{"n":892,"I":1.3,"Q":1.4},{"n":893,"I":0.8,"Q":1.1},{"n":894,"I":0.2,"Q":0.1},{"n":895,"I":-0.2,"Q":1.2},{"n":896,"I":0.7,"Q":1.2},
{"n":897,"I":-0.9,"Q":1.7},{"n":898,"I":0.6,"Q":0.6},{"n":899,"I":0.3,"Q":1.9},{"n":900,"I":-0.4,"Q":0.2},{"n":901,"I":-0.2,"Q":1.2},{"n":902,"I":0.8,"Q":0.4},{"n":903,"I":0.5,"Q":1.5},{"n":904,"I":-0.7,"Q":0.5},
{"n":905,"I":-0.4,"Q":0.3},{"n":906,"I":0.2,"Q":1.7},{"n":907,"I":-1.2,"Q":0.7},{"n":908,"I":-1.5,"Q":1.3},{"n":909,"I":0.1,"Q":0.0},{"n":910,"I":-0.5,"Q":1.5},{"n":911,"I":-1.0,"Q":0.6},{"n":912,"I":-0.5,"Q":1.1},
{"n":913,"I":-1.4,"Q":0.6},{"n":914,"I":-1.2,"Q":-0.6},{"n":915,"I":-0.1,"Q":0.9},{"n":916,"I":-1.6,"Q":1.1},{"n":917,"I":-0.7,"Q":-0.2},{"n":918,"I":-0.4,"Q":0.1},{"n":919,"I":-1.9,"Q":1.0},{"n":920,"I":-0.7,"Q":-0.6},
{"n":921,"I":0.1,"Q":0.1},{"n":922,"I":-1.3,"Q":-0.6},{"n":923,"I":-0.4,"Q":0.3},{"n":924,"I":0.2,"Q":1.1},{"n":925,"I":-1.1,"Q":-0.2},{"n":926,"I":-0.9,"Q":0.1},{"n":927,"I":0.4,"Q":1.0},{"n":928,"I":-1.0,"Q":-0.5},
{"n":929,"I":-1.6,"Q":-0.8},{"n":930,"I":-0.4,"Q":-1.2},{"n":931,"I":-1.3,"Q":0.3},{"n":932,"I":0.0,"Q":-0.3},{"n":933,"I":-1.7,"Q":-0.9},{"n":934,"I":-0.7,"Q":0.4},{"n":935,"I":-0.3,"Q":-1.3},{"n":936,"I":-1.2,"Q":-0.2},
{"n":937,"I":1.1,"Q":-1.1},{"n":938,"I":0.0,"Q":-1.5},{"n":939,"I":-0.2,"Q":0.0},{"n":940,"I":0.7,"Q":-0.6},{"n":941,"I":0.4,"Q":-1.2},{"n":942,"I":-0.6,"Q":0.1},{"n":943,"I":0.5,"Q":-1.6},{"n":944,"I":0.5,"Q":-0.5},
{"n":945,"I":1.1,"Q":-0.4},{"n":946,"I":0.0,"Q":-1.4},{"n":947,"I":1.3,"Q":-1.7},{"n":948,"I":-0.4,"Q":0.0},{"n":949,"I":0.6,"Q":-0.5},{"n":950,"I":-0.2,"Q":-1.1},{"n":951,"I":0.9,"Q":-1.5},{"n":952,"I":-0.1,"Q":-0.6},
{"n":953,"I":0.1,"Q":-1.6},{"n":954,"I":1.5,"Q":-0.1},{"n":955,"I":0.5,"Q":-0.4},{"n":956,"I":1.1,"Q":-1.1},{"n":957,"I":-0.2,"Q":-0.9},{"n":958,"I":1.3,"Q":0.1},{"n":959,"I":0.4,"Q":-0.2},{"n":960,"I":0.9,"Q":-1.4},
{"n":961,"I":1.0,"Q":0.2},{"n":962,"I":-0.2,"Q":0.8},{"n":963,"I":1.3,"Q":-0.6},{"n":964,"I":1.5,"Q":-0.9},{"n":965,"I":0.2,"Q":0.7},{"n":966,"I":0.5,"Q":0.1},{"n":967,"I":1.4,"Q":-0.4},{"n":968,"I":-0.1,"Q":0.1},
{"n":969,"I":0.1,"Q":-0.5},{"n":970,"I":1.0,"Q":-0.7},{"n":971,"I":1.4,"Q":0.4},{"n":972,"I":0.2,"Q":-1.1},{"n":973,"I":1.8,"Q":-0.2},{"n":974,"I":1.2,"Q":0.1},{"n":975,"I":0.3,"Q":-1.4},{"n":976,"I":1.2,"Q":-0.2},
{"n":977,"I":1.5,"Q":0.1},{"n":978,"I":1.0,"Q":-1.3},{"n":979,"I":-0.1,"Q":-0.4},{"n":980,"I":0.3,"Q":0.2},{"n":981,"I":1.2,"Q":-1.1},{"n":982,"I":-0.3,"Q":-0.9},{"n":983,"I":0.7,"Q":0.4},{"n":984,"I":0.5,"Q":-1.0},
{"n":985,"I":0.1,"Q":0.2},{"n":986,"I":-0.9,"Q":-0.9},{"n":987,"I":-1.2,"Q":-1.1},{"n":988,"I":0.5,"Q":-0.2},{"n":989,"I":0.0,"Q":-0.5},{"n":990,"I":-0.6,"Q":-1.5},{"n":991,"I":-1.0,"Q":-0.4},{"n":992,"I":-0.1,"Q":-0.4},
{"n":993,"I":-1.8,"Q":0.1},{"n":994,"I":-0.3,"Q":-1.0},{"n":995,"I":-0.6,"Q":0.3},{"n":996,"I":-1.3,"Q":-1.4},{"n":997,"I":-1.1,"Q":-0.4},{"n":998,"I":-0.1,"Q":-1.2},{"n":999,"I":-0.4,"Q":-0.1},{"n":1000,"I":-1.6,"Q":-1.1},
{"n":1001,"I":-0.9,"Q":-0.9},{"n":1002,"I":-0.3,"Q":0.5},{"n":1003,"I":-1.7,"Q":-0.5},{"n":1004,"I":-2.0,"Q":0.1},{"n":1005,"I":-0.4,"Q":-1.2},{"n":1006,"I":-1.0,"Q":0.3},{"n":1007,"I":-1.5,"Q":-0.6},{"n":1008,"I":-1.0,"Q":-0.1},
{"n":1009,"I":-1.5,"Q":0.7},{"n":1010,"I":-1.3,"Q":-0.5},{"n":1011,"I":-0.2,"Q":1.0},{"n":1012,"I":-1.7,"Q":1.2},{"n":1013,"I":-0.8,"Q":-0.1},{"n":1014,"I":-0.5,"Q":0.2},{"n":1015,"I":-2.0,"Q":1.1},{"n":1016,"I":-0.8,"Q":-0.4},
{"n":1017,"I":-0.4,"Q":0.0},{"n":1018,"I":-1.8,"Q":0.9},{"n":1019,"I":-0.9,"Q":1.3},{"n":1020,"I":-0.3,"Q":0.1},{"n":1021,"I":-1.6,"Q":1.7},{"n":1022,"I":-1.4,"Q":1.1},{"n":1023,"I":-0.1,"Q":0.2},{"n":1024,"I":-1.5,"Q":1.1},
{"n":1025,"I":-1.0,"Q":1.6},{"n":1026,"I":0.2,"Q":1.1},{"n":1027,"I":-0.7,"Q":0.0},{"n":1028,"I":0.6,"Q":0.4},{"n":1029,"I":-1.1,"Q":1.3},{"n":1030,"I":-0.1,"Q":-0.2},{"n":1031,"I":0.3,"Q":0.8},{"n":1032,"I":-0.6,"Q":0.6},
{"n":1033,"I":1.1,"Q":0.7},{"n":1034,"I":0.0,"Q":0.3},{"n":1035,"I":-0.2,"Q":1.8},{"n":1036,"I":0.7,"Q":1.2},{"n":1037,"I":0.4,"Q":0.6},{"n":1038,"I":-0.6,"Q":1.9},{"n":1039,"I":0.5,"Q":0.2},{"n":1040,"I":0.5,"Q":1.3},
{"n":1041,"I":1.2,"Q":1.4},{"n":1042,"I":0.1,"Q":0.4},{"n":1043,"I":1.4,"Q":0.1},{"n":1044,"I":-0.3,"Q":1.8},{"n":1045,"I":0.7,"Q":1.3},{"n":1046,"I":-0.1,"Q":0.7},{"n":1047,"I":1.0,"Q":0.3},{"n":1048,"I":0.0,"Q":1.2},
{"n":1049,"I":0.2,"Q":-0.5},{"n":1050,"I":1.6,"Q":1.0},{"n":1051,"I":0.6,"Q":0.7},{"n":1052,"I":1.2,"Q":0.0},{"n":1053,"I":-0.1,"Q":0.2},{"n":1054,"I":1.4,"Q":1.2},{"n":1055,"I":0.5,"Q":0.9},{"n":1056,"I":1.0,"Q":-0.3},
{"n":1057,"I":1.2,"Q":-0.1},{"n":1058,"I":0.0,"Q":0.5},{"n":1059,"I":1.5,"Q":-0.9},{"n":1060,"I":1.7,"Q":-1.2},{"n":1061,"I":0.4,"Q":0.4},{"n":1062,"I":0.7,"Q":-0.2},{"n":1063,"I":1.6,"Q":-0.7},{"n":1064,"I":0.1,"Q":-0.2},
{"n":1065,"I":-0.1,"Q":-1.1},{"n":1066,"I":0.8,"Q":-0.9},{"n":1067,"I":1.2,"Q":0.2},{"n":1068,"I":0.0,"Q":-1.3},{"n":1069,"I":1.6,"Q":-0.4},{"n":1070,"I":1.0,"Q":-0.1},{"n":1071,"I":0.1,"Q":-1.6},{"n":1072,"I":1.0,"Q":-0.4},
{"n":1073,"I":1.3,"Q":-0.5},{"n":1074,"I":0.8,"Q":-1.9},{"n":1075,"I":-0.3,"Q":-1.0},{"n":1076,"I":0.1,"Q":-0.4},{"n":1077,"I":1.0,"Q":-1.7},{"n":1078,"I":-0.5,"Q":-1.5},{"n":1079,"I":0.5,"Q":-0.2},{"n":1080,"I":0.3,"Q":-1.6},
{"n":1081,"I":-0.5,"Q":-1.7},{"n":1082,"I":-0.9,"Q":-0.5},{"n":1083,"I":0.6,"Q":-1.4},{"n":1084,"I":0.0,"Q":-0.1},{"n":1085,"I":-0.6,"Q":-1.8},{"n":1086,"I":0.7,"Q":-0.8},{"n":1087,"I":-1.0,"Q":-0.4},{"n":1088,"I":0.1,"Q":-1.3},
{"n":1089,"I":0.0,"Q":0.0},{"n":1090,"I":-1.0,"Q":-1.1},{"n":1091,"I":-1.3,"Q":-1.3},{"n":1092,"I":0.4,"Q":-0.4},{"n":1093,"I":-0.1,"Q":-0.7},{"n":1094,"I":-0.7,"Q":-1.7},{"n":1095,"I":-1.1,"Q":-0.6},{"n":1096,"I":-0.2,"Q":-0.6},
{"n":1097,"I":-1.9,"Q":0.6},{"n":1098,"I":-0.4,"Q":-0.5},{"n":1099,"I":-0.7,"Q":0.8},{"n":1100,"I":-1.4,"Q":-0.9},{"n":1101,"I":-1.2,"Q":0.1},{"n":1102,"I":-0.2,"Q":-0.7},{"n":1103,"I":-0.5,"Q":0.4},{"n":1104,"I":-1.7,"Q":-0.6},
{"n":1105,"I":-0.8,"Q":-0.1},{"n":1106,"I":-0.2,"Q":1.3},{"n":1107,"I":-1.6,"Q":0.3},{"n":1108,"I":-1.9,"Q":0.9},{"n":1109,"I":-0.3,"Q":-0.4},{"n":1110,"I":-0.9,"Q":1.1},{"n":1111,"I":-1.4,"Q":0.2},{"n":1112,"I":-0.9,"Q":0.7},
{"n":1113,"I":-1.0,"Q":1.2},{"n":1114,"I":-0.8,"Q":0.0},{"n":1115,"I":0.3,"Q":1.5},{"n":1116,"I":-1.2,"Q":1.7},{"n":1117,"I":-0.3,"Q":0.4},{"n":1118,"I":0.0,"Q":0.7},{"n":1119,"I":-1.5,"Q":1.6},{"n":1120,"I":-0.3,"Q":0.1},
{"n":1121,"I":0.2,"Q":0.1},{"n":1122,"I":-1.2,"Q":1.0},{"n":1123,"I":-0.3,"Q":1.4},{"n":1124,"I":0.3,"Q":0.2},{"n":1125,"I":-1.0,"Q":1.8},{"n":1126,"I":-0.8,"Q":1.2},{"n":1127,"I":0.5,"Q":0.3},{"n":1128,"I":-0.9,"Q":1.2},
{"n":1129,"I":-0.3,"Q":1.7},{"n":1130,"I":0.9,"Q":1.2},{"n":1131,"I":0.0,"Q":0.1},{"n":1132,"I":1.3,"Q":0.5},{"n":1133,"I":-0.4,"Q":1.4},{"n":1134,"I":0.6,"Q":-0.1},{"n":1135,"I":1.0,"Q":0.9},{"n":1136,"I":0.1,"Q":0.7},
{"n":1137,"I":1.3,"Q":0.5},{"n":1138,"I":0.2,"Q":0.1},{"n":1139,"I":0.0,"Q":1.6},{"n":1140,"I":0.9,"Q":1.0},{"n":1141,"I":0.6,"Q":0.4},{"n":1142,"I":-0.4,"Q":1.7},{"n":1143,"I":0.7,"Q":0.0},{"n":1144,"I":0.7,"Q":1.1},
{"n":1145,"I":1.5,"Q":0.8},{"n":1146,"I":0.4,"Q":-0.2},{"n":1147,"I":1.7,"Q":-0.5},{"n":1148,"I":0.0,"Q":1.2},{"n":1149,"I":1.0,"Q":0.7},{"n":1150,"I":0.2,"Q":0.1},{"n":1151,"I":1.3,"Q":-0.3},{"n":1152,"I":0.3,"Q":0.6},
{"n":1153,"I":0.5,"Q":-1.3},{"n":1154,"I":1.9,"Q":0.2},{"n":1155,"I":0.9,"Q":-0.1},{"n":1156,"I":1.5,"Q":-0.8},{"n":1157,"I":0.2,"Q":-0.6},{"n":1158,"I":1.7,"Q":0.4},{"n":1159,"I":0.8,"Q":0.1},{"n":1160,"I":1.3,"Q":-1.1},
{"n":1161,"I":0.9,"Q":-0.5},{"n":1162,"I":-0.3,"Q":0.1},{"n":1163,"I":1.2,"Q":-1.3},{"n":1164,"I":1.4,"Q":-1.6},{"n":1165,"I":0.1,"Q":0.0},{"n":1166,"I":0.4,"Q":-0.6},{"n":1167,"I":1.3,"Q":-1.1},{"n":1168,"I":-0.2,"Q":-0.6},
{"n":1169,"I":-1.0,"Q":-1.3},{"n":1170,"I":-0.1,"Q":-1.1},{"n":1171,"I":0.3,"Q":0.0},{"n":1172,"I":-0.9,"Q":-1.5},{"n":1173,"I":0.7,"Q":-0.6},{"n":1174,"I":0.1,"Q":-0.3},{"n":1175,"I":-0.8,"Q":-1.8},{"n":1176,"I":0.1,"Q":-0.6},
{"n":1177,"I":0.8,"Q":-0.6},{"n":1178,"I":0.3,"Q":-2.0},{"n":1179,"I":-0.8,"Q":-1.1},{"n":1180,"I":-0.4,"Q":-0.5},{"n":1181,"I":0.5,"Q":-1.8},{"n":1182,"I":-1.0,"Q":-1.6},{"n":1183,"I":0.0,"Q":-0.3},{"n":1184,"I":-0.2,"Q":-1.7},
{"n":1185,"I":-1.0,"Q":-1.0},{"n":1186,"I":-1.4,"Q":0.2},{"n":1187,"I":0.1,"Q":-0.7},{"n":1188,"I":-0.5,"Q":0.6},{"n":1189,"I":-1.1,"Q":-1.1},{"n":1190,"I":0.2,"Q":-0.1},{"n":1191,"I":-1.5,"Q":0.3},{"n":1192,"I":-0.4,"Q":-0.6},
{"n":1193,"I":-0.8,"Q":0.6},{"n":1194,"I":-1.8,"Q":-0.5},{"n":1195,"I":-2.0,"Q":-0.7},{"n":1196,"I":-0.4,"Q":0.2},{"n":1197,"I":-0.9,"Q":-0.1},{"n":1198,"I":-1.5,"Q":-1.1},{"n":1199,"I":-1.9,"Q":0.0},{"n":1200,"I":-1.0,"Q":0.0},
{"n":1201,"I":-1.9,"Q":0.9},{"n":1202,"I":-0.4,"Q":-0.2},{"n":1203,"I":-0.7,"Q":1.1},{"n":1204,"I":-1.4,"Q":-0.6},{"n":1205,"I":-1.2,"Q":0.4},{"n":1206,"I":-0.2,"Q":-0.4},{"n":1207,"I":-0.5,"Q":0.7},{"n":1208,"I":-1.7,"Q":-0.3},
{"n":1209,"I":-0.3,"Q":-0.2},{"n":1210,"I":0.3,"Q":1.2},{"n":1211,"I":-1.1,"Q":0.2},{"n":1212,"I":-1.4,"Q":0.8},{"n":1213,"I":0.2,"Q":-0.5},{"n":1214,"I":-0.4,"Q":1.0},{"n":1215,"I":-0.9,"Q":0.1},{"n":1216,"I":-0.4,"Q":0.6},
{"n":1217,"I":-1.3,"Q":1.1},{"n":1218,"I":-1.1,"Q":-0.1},{"n":1219,"I":0.0,"Q":1.4},{"n":1220,"I":-1.5,"Q":1.6},{"n":1221,"I":-0.6,"Q":0.3},{"n":1222,"I":-0.3,"Q":0.6},{"n":1223,"I":-1.8,"Q":1.5},{"n":1224,"I":-0.6,"Q":0.0},
{"n":1225,"I":0.7,"Q":0.4},{"n":1226,"I":-0.7,"Q":1.3},{"n":1227,"I":0.2,"Q":1.7},{"n":1228,"I":0.8,"Q":0.5},{"n":1229,"I":-0.5,"Q":2.0},{"n":1230,"I":-0.3,"Q":1.5},{"n":1231,"I":1.0,"Q":0.6},{"n":1232,"I":-0.4,"Q":1.5},
{"n":1233,"I":-0.3,"Q":1.5},{"n":1234,"I":0.9,"Q":1.0},{"n":1235,"I":0.0,"Q":-0.1},{"n":1236,"I":1.3,"Q":0.3},{"n":1237,"I":-0.4,"Q":1.2},{"n":1238,"I":0.6,"Q":-0.3},{"n":1239,"I":1.0,"Q":0.7},{"n":1240,"I":0.1,"Q":0.5},
{"n":1241,"I":2.0,"Q":0.0},{"n":1242,"I":1.1,"Q":-0.4},{"n":1243,"I":0.9,"Q":1.1},{"n":1244,"I":1.8,"Q":0.5},{"n":1245,"I":1.5,"Q":-0.1},{"n":1246,"I":0.5,"Q":1.2},{"n":1247,"I":1.6,"Q":-0.5},{"n":1248,"I":1.6,"Q":0.6},
{"n":1249,"I":1.9,"Q":0.2},{"n":1250,"I":0.8,"Q":-0.8},{"n":1251,"I":2.0,"Q":-1.1},{"n":1252,"I":0.4,"Q":0.6},{"n":1253,"I":1.4,"Q":0.1},{"n":1254,"I":0.6,"Q":-0.5},{"n":1255,"I":1.7,"Q":-0.9},{"n":1256,"I":0.7,"Q":0.0},
{"n":1257,"I":0.3,"Q":-1.8},{"n":1258,"I":1.7,"Q":-0.3},{"n":1259,"I":0.7,"Q":-0.6},{"n":1260,"I":1.3,"Q":-1.3},{"n":1261,"I":0.0,"Q":-1.1},{"n":1262,"I":1.5,"Q":-0.1},{"n":1263,"I":0.6,"Q":-0.4},{"n":1264,"I":1.1,"Q":-1.6},
{"n":1265,"I":0.9,"Q":-0.8},{"n":1266,"I":-0.3,"Q":-0.2},{"n":1267,"I":1.2,"Q":-1.6},{"n":1268,"I":1.4,"Q":-1.9},{"n":1269,"I":0.1,"Q":-0.3},{"n":1270,"I":0.4,"Q":-0.9},{"n":1271,"I":1.3,"Q":-1.4},{"n":1272,"I":-0.2,"Q":-0.9},
{"n":1273,"I":-0.7,"Q":-1.5},{"n":1274,"I":0.2,"Q":-1.3},{"n":1275,"I":0.6,"Q":-0.2},{"n":1276,"I":-0.6,"Q":-1.7},{"n":1277,"I":1.0,"Q":-0.8},{"n":1278,"I":0.4,"Q":-0.5},{"n":1279,"I":-0.5,"Q":-2.0},{"n":1280,"I":0.4,"Q":-0.8},
{"n":1281,"I":0.3,"Q":-0.4},{"n":1282,"I":-0.2,"Q":-1.8},{"n":1283,"I":-1.3,"Q":-0.9},{"n":1284,"I":-0.9,"Q":-0.3},{"n":1285,"I":0.0,"Q":-1.6},{"n":1286,"I":-1.5,"Q":-1.4},{"n":1287,"I":-0.5,"Q":-0.1},{"n":1288,"I":-0.7,"Q":-1.5},
{"n":1289,"I":-1.3,"Q":-0.9},{"n":1290,"I":-1.7,"Q":0.3},{"n":1291,"I":-0.2,"Q":-0.6},{"n":1292,"I":-0.8,"Q":0.7},{"n":1293,"I":-1.4,"Q":-1.0},{"n":1294,"I":-0.1,"Q":0.0},{"n":1295,"I":-1.8,"Q":0.4},{"n":1296,"I":-0.7,"Q":-0.5},
{"n":1297,"I":0.0,"Q":0.8},{"n":1298,"I":-1.0,"Q":-0.3},{"n":1299,"I":-1.3,"Q":-0.5},{"n":1300,"I":0.4,"Q":0.4},{"n":1301,"I":-0.1,"Q":0.1},{"n":1302,"I":-0.7,"Q":-0.9},{"n":1303,"I":-1.1,"Q":0.2},{"n":1304,"I":-0.2,"Q":0.2},
{"n":1305,"I":-1.6,"Q":1.5},{"n":1306,"I":-0.1,"Q":0.4},{"n":1307,"I":-0.4,"Q":1.7},{"n":1308,"I":-1.1,"Q":0.0},{"n":1309,"I":-0.9,"Q":1.0},{"n":1310,"I":0.1,"Q":0.2},{"n":1311,"I":-0.2,"Q":1.3},{"n":1312,"I":-1.4,"Q":0.3},
{"n":1313,"I":-0.4,"Q":0.5},{"n":1314,"I":0.2,"Q":1.9},{"n":1315,"I":-1.2,"Q":0.9},{"n":1316,"I":-1.5,"Q":1.5},{"n":1317,"I":0.1,"Q":0.2},{"n":1318,"I":-0.5,"Q":1.7},{"n":1319,"I":-1.0,"Q":0.8},{"n":1320,"I":-0.5,"Q":1.3},
{"n":1321,"I":0.0,"Q":1.0},{"n":1322,"I":0.2,"Q":-0.2},{"n":1323,"I":1.3,"Q":1.3},{"n":1324,"I":-0.2,"Q":1.5},{"n":1325,"I":0.7,"Q":0.2},{"n":1326,"I":1.0,"Q":0.5},{"n":1327,"I":-0.5,"Q":1.4},{"n":1328,"I":0.7,"Q":-0.1},
{"n":1329,"I":1.6,"Q":-0.3},{"n":1330,"I":0.2,"Q":0.6},{"n":1331,"I":1.1,"Q":1.0},{"n":1332,"I":1.7,"Q":-0.2},{"n":1333,"I":0.4,"Q":1.4},{"n":1334,"I":0.6,"Q":0.8},{"n":1335,"I":1.9,"Q":-0.1},{"n":1336,"I":0.5,"Q":0.8},
{"n":1337,"I":0.3,"Q":1.2},{"n":1338,"I":1.5,"Q":0.7},{"n":1339,"I":0.6,"Q":-0.4},{"n":1340,"I":1.9,"Q":0.0},{"n":1341,"I":0.2,"Q":0.9},{"n":1342,"I":1.2,"Q":-0.6},{"n":1343,"I":1.6,"Q":0.4},{"n":1344,"I":0.7,"Q":0.2},
{"n":1345,"I":2.0,"Q":-0.5},{"n":1346,"I":0.9,"Q":-0.9},{"n":1347,"I":0.7,"Q":0.6},{"n":1348,"I":1.6,"Q":0.0},{"n":1349,"I":1.3,"Q":-0.6},{"n":1350,"I":0.3,"Q":0.7},{"n":1351,"I":1.4,"Q":-1.0},{"n":1352,"I":1.4,"Q":0.1},
{"n":1353,"I":1.3,"Q":-0.4},{"n":1354,"I":0.2,"Q":-1.4},{"n":1355,"I":1.5,"Q":-1.7},{"n":1356,"I":-0.2,"Q":0.0},{"n":1357,"I":0.8,"Q":-0.5},{"n":1358,"I":0.0,"Q":-1.1},{"n":1359,"I":1.1,"Q":-1.5},{"n":1360,"I":0.1,"Q":-0.6},
{"n":1361,"I":-0.5,"Q":-1.9},{"n":1362,"I":0.9,"Q":-0.4},{"n":1363,"I":-0.1,"Q":-0.7},{"n":1364,"I":0.5,"Q":-1.4},{"n":1365,"I":-0.8,"Q":-1.2},{"n":1366,"I":0.7,"Q":-0.2},{"n":1367,"I":-0.2,"Q":-0.5},{"n":1368,"I":0.3,"Q":-1.7},
{"n":1369,"I":0.4,"Q":-0.9},{"n":1370,"I":-0.8,"Q":-0.3},{"n":1371,"I":0.7,"Q":-1.7},{"n":1372,"I":0.9,"Q":-2.0},{"n":1373,"I":-0.4,"Q":-0.4},{"n":1374,"I":-0.1,"Q":-1.0},{"n":1375,"I":0.8,"Q":-1.5},{"n":1376,"I":-0.7,"Q":-1.0},
{"n":1377,"I":-1.4,"Q":-1.3},{"n":1378,"I":-0.5,"Q":-1.1},{"n":1379,"I":-0.1,"Q":0.0},{"n":1380,"I":-1.3,"Q":-1.5},{"n":1381,"I":0.3,"Q":-0.6},{"n":1382,"I":-0.3,"Q":-0.3},{"n":1383,"I":-1.2,"Q":-1.8},{"n":1384,"I":-0.3,"Q":-0.6},
{"n":1385,"I":-0.1,"Q":-0.1},{"n":1386,"I":-0.6,"Q":-1.5},{"n":1387,"I":-1.7,"Q":-0.6},{"n":1388,"I":-1.3,"Q":0.0},{"n":1389,"I":-0.4,"Q":-1.3},{"n":1390,"I":-1.9,"Q":-1.1},{"n":1391,"I":-0.9,"Q":0.2},{"n":1392,"I":-1.1,"Q":-1.2},
{"n":1393,"I":-1.5,"Q":-0.4},{"n":1394,"I":-1.9,"Q":0.8},{"n":1395,"I":-0.4,"Q":-0.1},{"n":1396,"I":-1.0,"Q":1.2},{"n":1397,"I":-1.6,"Q":-0.5},{"n":1398,"I":-0.3,"Q":0.5},{"n":1399,"I":-2.0,"Q":0.9},{"n":1400,"I":-0.9,"Q":0.0},
{"n":1401,"I":0.2,"Q":1.7},{"n":1402,"I":-0.8,"Q":0.6},{"n":1403,"I":-1.1,"Q":0.4},{"n":1404,"I":0.6,"Q":1.3},{"n":1405,"I":0.1,"Q":1.0},{"n":1406,"I":-0.5,"Q":0.0},{"n":1407,"I":-0.9,"Q":1.1},{"n":1408,"I":0.0,"Q":1.1},
{"n":1409,"I":-1.0,"Q":1.4},{"n":1410,"I":0.5,"Q":0.3},{"n":1411,"I":0.2,"Q":1.6},{"n":1412,"I":-0.5,"Q":-0.1},{"n":1413,"I":-0.3,"Q":0.9},{"n":1414,"I":0.7,"Q":0.1},{"n":1415,"I":0.4,"Q":1.2},{"n":1416,"I":-0.8,"Q":0.2},
{"n":1417,"I":0.4,"Q":0.7},{"n":1418,"I":1.0,"Q":2.0},{"n":1419,"I":-0.4,"Q":1.1},{"n":1420,"I":-0.7,"Q":1.7},{"n":1421,"I":0.9,"Q":0.4},{"n":1422,"I":0.3,"Q":1.9},{"n":1423,"I":-0.2,"Q":1.0},{"n":1424,"I":0.3,"Q":1.5},
{"n":1425,"I":0.4,"Q":1.3},{"n":1426,"I":0.6,"Q":0.1},{"n":1427,"I":1.7,"Q":1.6},{"n":1428,"I":0.2,"Q":1.8},{"n":1429,"I":1.1,"Q":0.5},{"n":1430,"I":1.4,"Q":0.8},{"n":1431,"I":-0.1,"Q":1.7},{"n":1432,"I":1.1,"Q":0.2},
{"n":1433,"I":1.6,"Q":-0.7},{"n":1434,"I":0.2,"Q":0.2},{"n":1435,"I":1.1,"Q":0.6},{"n":1436,"I":1.7,"Q":-0.6},{"n":1437,"I":0.4,"Q":1.0},{"n":1438,"I":0.6,"Q":0.4},{"n":1439,"I":1.9,"Q":-0.5},{"n":1440,"I":0.5,"Q":0.4},
{"n":1441,"I":0.3,"Q":0.5},{"n":1442,"I":1.5,"Q":0.0},{"n":1443,"I":0.6,"Q":-1.1},{"n":1444,"I":1.9,"Q":-0.7},{"n":1445,"I":0.2,"Q":0.2},{"n":1446,"I":1.2,"Q":-1.3},{"n":1447,"I":1.6,"Q":-0.3},{"n":1448,"I":0.7,"Q":-0.5},
{"n":1449,"I":2.0,"Q":-1.2},{"n":1450,"I":0.9,"Q":-1.6},{"n":1451,"I":0.7,"Q":-0.1},{"n":1452,"I":1.6,"Q":-0.7},{"n":1453,"I":1.3,"Q":-1.3},{"n":1454,"I":0.3,"Q":0.0},{"n":1455,"I":1.4,"Q":-1.7},{"n":1456,"I":1.4,"Q":-0.6},
{"n":1457,"I":1.2,"Q":-0.3},{"n":1458,"I":0.1,"Q":-1.3},{"n":1459,"I":1.4,"Q":-1.6},{"n":1460,"I":-0.3,"Q":0.1},{"n":1461,"I":0.7,"Q":-0.4},{"n":1462,"I":-0.1,"Q":-1.0},{"n":1463,"I":1.0,"Q":-1.4},{"n":1464,"I":0.0,"Q":-0.5},
{"n":1465,"I":-0.5,"Q":-2.0},{"n":1466,"I":0.9,"Q":-0.8},{"n":1467,"I":-0.1,"Q":-1.1},{"n":1468,"I":0.5,"Q":-1.8},{"n":1469,"I":-0.8,"Q":-1.6},{"n":1470,"I":0.7,"Q":-0.6},{"n":1471,"I":-0.2,"Q":-0.9},{"n":1472,"I":0.3,"Q":-2.0},
{"n":1473,"I":-0.1,"Q":-0.7},{"n":1474,"I":-1.3,"Q":-0.1},{"n":1475,"I":0.2,"Q":-1.5},{"n":1476,"I":0.4,"Q":-1.8},{"n":1477,"I":-0.9,"Q":-0.2},{"n":1478,"I":-0.6,"Q":-0.8},{"n":1479,"I":0.3,"Q":-1.3},{"n":1480,"I":-1.2,"Q":-0.8},
{"n":1481,"I":-1.8,"Q":-0.8},{"n":1482,"I":-0.9,"Q":-0.6},{"n":1483,"I":-0.5,"Q":0.5},{"n":1484,"I":-1.7,"Q":-1.0},{"n":1485,"I":-0.1,"Q":-0.1},{"n":1486,"I":-0.7,"Q":0.2},{"n":1487,"I":-1.6,"Q":-1.3},{"n":1488,"I":-0.7,"Q":-0.1},
{"n":1489,"I":-0.6,"Q":0.6},{"n":1490,"I":-1.1,"Q":0.0},{"n":1491,"I":-2.0,"Q":-1.1},{"n":1492,"I":-1.8,"Q":-0.7},{"n":1493,"I":-0.9,"Q":0.2},{"n":1494,"I":-2.0,"Q":-1.3},{"n":1495,"I":-1.4,"Q":-0.3},{"n":1496,"I":-1.6,"Q":-0.5},
{"n":1497,"I":-1.2,"Q":0.1},{"n":1498,"I":-1.6,"Q":1.3},{"n":1499,"I":-0.1,"Q":0.4},{"n":1500,"I":-0.7,"Q":1.7},{"n":1501,"I":-1.3,"Q":0.0},{"n":1502,"I":0.0,"Q":1.0},{"n":1503,"I":-1.7,"Q":1.4},{"n":1504,"I":-0.6,"Q":0.5},
{"n":1505,"I":0.5,"Q":1.7},{"n":1506,"I":-0.5,"Q":0.6},{"n":1507,"I":-0.8,"Q":0.4},{"n":1508,"I":0.9,"Q":1.3},{"n":1509,"I":0.4,"Q":1.0},{"n":1510,"I":-0.2,"Q":0.0},{"n":1511,"I":-0.6,"Q":1.1},{"n":1512,"I":0.3,"Q":1.1},
{"n":1513,"I":-0.5,"Q":1.5},{"n":1514,"I":1.0,"Q":0.4},{"n":1515,"I":0.7,"Q":1.7},{"n":1516,"I":0.0,"Q":0.0},{"n":1517,"I":0.2,"Q":1.0},{"n":1518,"I":1.2,"Q":0.2},{"n":1519,"I":0.9,"Q":1.3},{"n":1520,"I":-0.3,"Q":0.3},
{"n":1521,"I":1.1,"Q":0.1},{"n":1522,"I":1.7,"Q":1.5},{"n":1523,"I":0.3,"Q":0.5},{"n":1524,"I":0.0,"Q":1.1},{"n":1525,"I":1.6,"Q":-0.2},{"n":1526,"I":1.0,"Q":1.3},{"n":1527,"I":0.5,"Q":0.4},{"n":1528,"I":1.0,"Q":0.9},
{"n":1529,"I":0.4,"Q":0.4},{"n":1530,"I":0.6,"Q":-0.8},{"n":1531,"I":1.7,"Q":0.7},{"n":1532,"I":0.2,"Q":0.9},{"n":1533,"I":1.1,"Q":-0.4},{"n":1534,"I":1.4,"Q":-0.1},{"n":1535,"I":-0.1,"Q":0.8},{"n":1536,"I":1.1,"Q":-0.7},
{"n":1537,"I":1.6,"Q":-1.0},{"n":1538,"I":0.2,"Q":-0.1},{"n":1539,"I":1.1,"Q":0.3},{"n":1540,"I":1.7,"Q":-0.9},{"n":1541,"I":0.4,"Q":0.7},{"n":1542,"I":0.6,"Q":0.1},{"n":1543,"I":1.9,"Q":-0.8},{"n":1544,"I":0.5,"Q":0.1},
{"n":1545,"I":-0.3,"Q":0.0},{"n":1546,"I":0.9,"Q":-0.5},{"n":1547,"I":0.0,"Q":-1.6},{"n":1548,"I":1.3,"Q":-1.2},{"n":1549,"I":-0.4,"Q":-0.3},{"n":1550,"I":0.6,"Q":-1.8},{"n":1551,"I":1.0,"Q":-0.8},{"n":1552,"I":0.1,"Q":-1.0},
{"n":1553,"I":0.9,"Q":-1.3},{"n":1554,"I":-0.2,"Q":-1.7},{"n":1555,"I":-0.4,"Q":-0.2},{"n":1556,"I":0.5,"Q":-0.8},{"n":1557,"I":0.2,"Q":-1.4},{"n":1558,"I":-0.8,"Q":-0.1},{"n":1559,"I":0.3,"Q":-1.8},{"n":1560,"I":0.3,"Q":-0.7},
{"n":1561,"I":0.6,"Q":-0.6},{"n":1562,"I":-0.5,"Q":-1.6},{"n":1563,"I":0.8,"Q":-1.9},{"n":1564,"I":-0.9,"Q":-0.2},{"n":1565,"I":0.1,"Q":-0.7},{"n":1566,"I":-0.7,"Q":-1.3},{"n":1567,"I":0.4,"Q":-1.7},{"n":1568,"I":-0.6,"Q":-0.8},
{"n":1569,"I":-1.1,"Q":-1.8},{"n":1570,"I":0.3,"Q":-0.3},{"n":1571,"I":-0.7,"Q":-0.6},{"n":1572,"I":-0.1,"Q":-1.3},{"n":1573,"I":-1.4,"Q":-1.1},{"n":1574,"I":0.1,"Q":-0.1},{"n":1575,"I":-0.8,"Q":-0.4},{"n":1576,"I":-0.3,"Q":-1.6},
{"n":1577,"I":-0.4,"Q":-0.1},{"n":1578,"I":-1.6,"Q":0.5},{"n":1579,"I":-0.1,"Q":-0.9},{"n":1580,"I":0.1,"Q":-1.2},{"n":1581,"I":-1.2,"Q":0.4},{"n":1582,"I":-0.9,"Q":-0.2},{"n":1583,"I":0.0,"Q":-0.7},{"n":1584,"I":-1.5,"Q":-0.2},
{"n":1585,"I":-1.3,"Q":0.1},{"n":1586,"I":-0.4,"Q":0.3},{"n":1587,"I":0.0,"Q":1.4},{"n":1588,"I":-1.2,"Q":-0.1},{"n":1589,"I":0.4,"Q":0.8},{"n":1590,"I":-0.2,"Q":1.1},{"n":1591,"I":-1.1,"Q":-0.4},{"n":1592,"I":-0.2,"Q":0.8},
{"n":1593,"I":0.4,"Q":1.7},{"n":1594,"I":-0.1,"Q":0.3},{"n":1595,"I":-1.2,"Q":1.2},{"n":1596,"I":-0.8,"Q":1.8},{"n":1597,"I":0.1,"Q":0.5},{"n":1598,"I":-1.4,"Q":0.7},{"n":1599,"I":-0.4,"Q":2.0},{"n":1600,"I":-0.6,"Q":0.6},
{"n":1601,"I":-0.3,"Q":0.2},{"n":1602,"I":-0.7,"Q":1.4},{"n":1603,"I":0.8,"Q":0.5},{"n":1604,"I":0.2,"Q":1.8},{"n":1605,"I":-0.4,"Q":0.1},{"n":1606,"I":0.9,"Q":1.1},{"n":1607,"I":-0.8,"Q":1.5},{"n":1608,"I":0.3,"Q":0.6},
{"n":1609,"I":0.7,"Q":1.6},{"n":1610,"I":-0.3,"Q":0.5},{"n":1611,"I":-0.6,"Q":0.3},{"n":1612,"I":1.1,"Q":1.2},{"n":1613,"I":0.6,"Q":0.9},{"n":1614,"I":0.0,"Q":-0.1},{"n":1615,"I":-0.4,"Q":1.0},{"n":1616,"I":0.5,"Q":1.0},
{"n":1617,"I":-0.3,"Q":0.9},{"n":1618,"I":1.2,"Q":-0.2},{"n":1619,"I":0.9,"Q":1.1},{"n":1620,"I":0.2,"Q":-0.6},{"n":1621,"I":0.4,"Q":0.4},{"n":1622,"I":1.4,"Q":-0.4},{"n":1623,"I":1.1,"Q":0.7},{"n":1624,"I":-0.1,"Q":-0.3},
{"n":1625,"I":1.1,"Q":-0.2},{"n":1626,"I":1.7,"Q":1.2},{"n":1627,"I":0.3,"Q":0.2},{"n":1628,"I":0.0,"Q":0.8},{"n":1629,"I":1.6,"Q":-0.5},{"n":1630,"I":1.0,"Q":1.0},{"n":1631,"I":0.5,"Q":0.1},{"n":1632,"I":1.0,"Q":0.6},
{"n":1633,"I":0.4,"Q":-0.1},{"n":1634,"I":0.6,"Q":-1.3},{"n":1635,"I":1.7,"Q":0.2},{"n":1636,"I":0.2,"Q":0.4},{"n":1637,"I":1.1,"Q":-0.9},{"n":1638,"I":1.4,"Q":-0.6},{"n":1639,"I":-0.1,"Q":0.3},{"n":1640,"I":1.1,"Q":-1.2},
{"n":1641,"I":1.4,"Q":-1.2},{"n":1642,"I":0.0,"Q":-0.3},{"n":1643,"I":0.9,"Q":0.1},{"n":1644,"I":1.5,"Q":-1.1},{"n":1645,"I":0.2,"Q":0.5},{"n":1646,"I":0.4,"Q":-0.1},{"n":1647,"I":1.7,"Q":-1.0},{"n":1648,"I":0.3,"Q":-0.1},
{"n":1649,"I":-0.5,"Q":0.3},{"n":1650,"I":0.7,"Q":-0.2},{"n":1651,"I":-0.2,"Q":-1.3},{"n":1652,"I":1.1,"Q":-0.9},{"n":1653,"I":-0.6,"Q":0.0},{"n":1654,"I":0.4,"Q":-1.5},{"n":1655,"I":0.8,"Q":-0.5},{"n":1656,"I":-0.1,"Q":-0.7},
{"n":1657,"I":0.3,"Q":-1.0},{"n":1658,"I":-0.8,"Q":-1.4},{"n":1659,"I":-1.0,"Q":0.1},{"n":1660,"I":-0.1,"Q":-0.5},{"n":1661,"I":-0.4,"Q":-1.1},{"n":1662,"I":-1.4,"Q":0.2},{"n":1663,"I":-0.3,"Q":-1.5},{"n":1664,"I":-0.3,"Q":-0.4},
{"n":1665,"I":-0.4,"Q":-0.4},{"n":1666,"I":-1.5,"Q":-1.4},{"n":1667,"I":-0.2,"Q":-1.7},{"n":1668,"I":-1.9,"Q":0.0},{"n":1669,"I":-0.9,"Q":-0.5},{"n":1670,"I":-1.7,"Q":-1.1},{"n":1671,"I":-0.6,"Q":-1.5},{"n":1672,"I":-1.6,"Q":-0.6},
{"n":1673,"I":-1.9,"Q":-0.7},{"n":1674,"I":-0.5,"Q":0.8},{"n":1675,"I":-1.5,"Q":0.5},{"n":1676,"I":-0.9,"Q":-0.2},{"n":1677,"I":-2.0,"Q":0.0},{"n":1678,"I":-0.7,"Q":1.0},{"n":1679,"I":-1.6,"Q":0.7},{"n":1680,"I":-1.1,"Q":-0.5},
{"n":1681,"I":-0.9,"Q":0.2},{"n":1682,"I":-2.0,"Q":0.8},{"n":1683,"I":-0.6,"Q":-0.6},{"n":1684,"I":-0.4,"Q":-0.9},{"n":1685,"I":-1.7,"Q":0.7},{"n":1686,"I":-1.4,"Q":0.1},{"n":1687,"I":-0.5,"Q":-0.4},{"n":1688,"I":-2.0,"Q":0.1},
{"n":1689,"I":-1.5,"Q":0.1},{"n":1690,"I":-0.6,"Q":0.3},{"n":1691,"I":-0.2,"Q":1.4},{"n":1692,"I":-1.4,"Q":-0.1},{"n":1693,"I":0.2,"Q":0.8},{"n":1694,"I":-0.4,"Q":1.1},{"n":1695,"I":-1.3,"Q":-0.4},{"n":1696,"I":-0.4,"Q":0.8},
{"n":1697,"I":0.6,"Q":1.7},{"n":1698,"I":0.1,"Q":0.3},{"n":1699,"I":-1.0,"Q":1.2},{"n":1700,"I":-0.6,"Q":1.8},{"n":1701,"I":0.3,"Q":0.5},{"n":1702,"I":-1.2,"Q":0.7},{"n":1703,"I":-0.2,"Q":2.0},{"n":1704,"I":-0.4,"Q":0.6},
{"n":1705,"I":-0.1,"Q":-0.2},{"n":1706,"I":-0.5,"Q":1.0},{"n":1707,"I":1.0,"Q":0.1},{"n":1708,"I":0.4,"Q":1.4},{"n":1709,"I":-0.2,"Q":-0.3},{"n":1710,"I":1.1,"Q":0.7},{"n":1711,"I":-0.6,"Q":1.1},{"n":1712,"I":0.5,"Q":0.2},
{"n":1713,"I":1.2,"Q":1.7},{"n":1714,"I":0.2,"Q":0.6},{"n":1715,"I":-0.1,"Q":0.4},{"n":1716,"I":1.6,"Q":1.3},{"n":1717,"I":1.1,"Q":1.0},{"n":1718,"I":0.5,"Q":0.0},{"n":1719,"I":0.1,"Q":1.1},{"n":1720,"I":1.0,"Q":1.1},
{"n":1721,"I":0.4,"Q":1.2},{"n":1722,"I":1.9,"Q":0.1},{"n":1723,"I":1.6,"Q":1.4},{"n":1724,"I":0.9,"Q":-0.3},{"n":1725,"I":1.1,"Q":0.7},{"n":1726,"I":2.0,"Q":-0.1},{"n":1727,"I":1.8,"Q":1.0},{"n":1728,"I":0.6,"Q":0.0},
{"n":1729,"I":1.4,"Q":-0.8},{"n":1730,"I":2.0,"Q":0.6},{"n":1731,"I":0.6,"Q":-0.4},{"n":1732,"I":0.3,"Q":0.2},{"n":1733,"I":1.9,"Q":-1.1},{"n":1734,"I":1.3,"Q":0.4},{"n":1735,"I":0.8,"Q":-0.5},{"n":1736,"I":1.3,"Q":0.0},
{"n":1737,"I":0.2,"Q":-0.3},{"n":1738,"I":0.4,"Q":-1.5},{"n":1739,"I":1.5,"Q":0.0},{"n":1740,"I":0.0,"Q":0.2},{"n":1741,"I":0.9,"Q":-1.1},{"n":1742,"I":1.2,"Q":-0.8},{"n":1743,"I":-0.3,"Q":0.1},{"n":1744,"I":0.9,"Q":-1.4},
{"n":1745,"I":1.0,"Q":-1.9},{"n":1746,"I":-0.4,"Q":-1.0},{"n":1747,"I":0.5,"Q":-0.6},{"n":1748,"I":1.1,"Q":-1.8},{"n":1749,"I":-0.2,"Q":-0.2},{"n":1750,"I":0.0,"Q":-0.8},{"n":1751,"I":1.3,"Q":-1.7},{"n":1752,"I":-0.1,"Q":-0.8},
{"n":1753,"I":-1.1,"Q":0.0},{"n":1754,"I":0.1,"Q":-0.5},{"n":1755,"I":-0.8,"Q":-1.6},{"n":1756,"I":0.5,"Q":-1.2},{"n":1757,"I":-1.2,"Q":-0.3},{"n":1758,"I":-0.2,"Q":-1.8},{"n":1759,"I":0.2,"Q":-0.8},{"n":1760,"I":-0.7,"Q":-1.0},
{"n":1761,"I":0.4,"Q":-1.3},{"n":1762,"I":-0.7,"Q":-1.7},{"n":1763,"I":-0.9,"Q":-0.2},{"n":1764,"I":0.0,"Q":-0.8},{"n":1765,"I":-0.3,"Q":-1.4},{"n":1766,"I":-1.3,"Q":-0.1},{"n":1767,"I":-0.2,"Q":-1.8},{"n":1768,"I":-0.2,"Q":-0.7},
{"n":1769,"I":-0.3,"Q":0.3},{"n":1770,"I":-1.4,"Q":-0.7},{"n":1771,"I":-0.1,"Q":-1.0},{"n":1772,"I":-1.8,"Q":0.7},{"n":1773,"I":-0.8,"Q":0.2},{"n":1774,"I":-1.6,"Q":-0.4},{"n":1775,"I":-0.5,"Q":-0.8},{"n":1776,"I":-1.5,"Q":0.1},
{"n":1777,"I":-1.6,"Q":-0.7},{"n":1778,"I":-0.2,"Q":0.8},{"n":1779,"I":-1.2,"Q":0.5},{"n":1780,"I":-0.6,"Q":-0.2},{"n":1781,"I":-1.9,"Q":0.0},{"n":1782,"I":-0.4,"Q":1.0},{"n":1783,"I":-1.3,"Q":0.7},{"n":1784,"I":-0.8,"Q":-0.5},
{"n":1785,"I":-0.2,"Q":1.0},{"n":1786,"I":-1.4,"Q":1.6},{"n":1787,"I":0.1,"Q":0.2},{"n":1788,"I":0.3,"Q":-0.1},{"n":1789,"I":-1.0,"Q":1.5},{"n":1790,"I":-0.7,"Q":0.9},{"n":1791,"I":0.2,"Q":0.4},{"n":1792,"I":-1.3,"Q":0.9},
{"n":1793,"I":-0.6,"Q":0.2},{"n":1794,"I":0.3,"Q":0.4},{"n":1795,"I":0.7,"Q":1.5},{"n":1796,"I":-0.5,"Q":0.0},{"n":1797,"I":1.1,"Q":0.9},{"n":1798,"I":0.5,"Q":1.2},{"n":1799,"I":-0.4,"Q":-0.3},{"n":1800,"I":0.5,"Q":0.9},
{"n":1801,"I":1.3,"Q":1.6},{"n":1802,"I":0.8,"Q":0.2},{"n":1803,"I":-0.3,"Q":1.1},{"n":1804,"I":0.1,"Q":1.7},{"n":1805,"I":1.0,"Q":0.4},{"n":1806,"I":-0.5,"Q":0.6},{"n":1807,"I":0.5,"Q":1.9},{"n":1808,"I":0.3,"Q":0.5},
{"n":1809,"I":0.3,"Q":0.1},{"n":1810,"I":-0.1,"Q":1.3},{"n":1811,"I":1.4,"Q":0.4},{"n":1812,"I":0.8,"Q":1.7},{"n":1813,"I":0.2,"Q":0.0},{"n":1814,"I":1.5,"Q":1.0},{"n":1815,"I":-0.2,"Q":1.4},{"n":1816,"I":0.9,"Q":0.5},
{"n":1817,"I":1.6,"Q":1.1},{"n":1818,"I":0.6,"Q":0.0},{"n":1819,"I":0.3,"Q":-0.2},{"n":1820,"I":2.0,"Q":0.7},{"n":1821,"I":1.5,"Q":0.4},{"n":1822,"I":0.9,"Q":-0.6},{"n":1823,"I":0.5,"Q":0.5},{"n":1824,"I":1.4,"Q":0.5},
{"n":1825,"I":0.2,"Q":0.4},{"n":1826,"I":1.7,"Q":-0.7},{"n":1827,"I":1.4,"Q":0.6},{"n":1828,"I":0.7,"Q":-1.1},{"n":1829,"I":0.9,"Q":-0.1},{"n":1830,"I":1.9,"Q":-0.9},{"n":1831,"I":1.6,"Q":0.2},{"n":1832,"I":0.4,"Q":-0.8},
{"n":1833,"I":0.8,"Q":-1.2},{"n":1834,"I":1.4,"Q":0.2},{"n":1835,"I":0.0,"Q":-0.8},{"n":1836,"I":-0.3,"Q":-0.2},{"n":1837,"I":1.3,"Q":-1.5},{"n":1838,"I":0.7,"Q":0.0},{"n":1839,"I":0.2,"Q":-0.9},{"n":1840,"I":0.7,"Q":-0.4},
{"n":1841,"I":0.1,"Q":-0.6},{"n":1842,"I":0.3,"Q":-1.8},{"n":1843,"I":1.4,"Q":-0.3},{"n":1844,"I":-0.1,"Q":-0.1},{"n":1845,"I":0.8,"Q":-1.4},{"n":1846,"I":1.1,"Q":-1.1},{"n":1847,"I":-0.4,"Q":-0.2},{"n":1848,"I":0.8,"Q":-1.7},
{"n":1849,"I":0.3,"Q":-1.8},{"n":1850,"I":-1.1,"Q":-0.9},{"n":1851,"I":-0.2,"Q":-0.5},{"n":1852,"I":0.4,"Q":-1.7},{"n":1853,"I":-0.9,"Q":-0.1},{"n":1854,"I":-0.7,"Q":-0.7},{"n":1855,"I":0.6,"Q":-1.6},{"n":1856,"I":-0.8,"Q":-0.7},
{"n":1857,"I":-1.6,"Q":0.7},{"n":1858,"I":-0.4,"Q":0.2},{"n":1859,"I":-1.3,"Q":-0.9},{"n":1860,"I":0.0,"Q":-0.5},{"n":1861,"I":-1.7,"Q":0.4},{"n":1862,"I":-0.7,"Q":-1.1},{"n":1863,"I":-0.3,"Q":-0.1},{"n":1864,"I":-1.2,"Q":-0.3},
{"n":1865,"I":-0.2,"Q":-0.8},{"n":1866,"I":-1.3,"Q":-1.2},{"n":1867,"I":-1.5,"Q":0.3},{"n":1868,"I":-0.6,"Q":-0.3},{"n":1869,"I":-0.9,"Q":-0.9},{"n":1870,"I":-1.9,"Q":0.4},{"n":1871,"I":-0.8,"Q":-1.3},{"n":1872,"I":-0.8,"Q":-0.2},
{"n":1873,"I":-0.5,"Q":1.1},{"n":1874,"I":-1.6,"Q":0.1},{"n":1875,"I":-0.3,"Q":-0.2},{"n":1876,"I":-2.0,"Q":1.5},{"n":1877,"I":-1.0,"Q":1.0},{"n":1878,"I":-1.8,"Q":0.4},{"n":1879,"I":-0.7,"Q":0.0},{"n":1880,"I":-1.7,"Q":0.9},
{"n":1881,"I":-1.1,"Q":-0.1},{"n":1882,"I":0.3,"Q":1.4},{"n":1883,"I":-0.7,"Q":1.1},{"n":1884,"I":-0.1,"Q":0.4},{"n":1885,"I":-1.4,"Q":0.6},{"n":1886,"I":0.1,"Q":1.6},{"n":1887,"I":-0.8,"Q":1.3},{"n":1888,"I":-0.3,"Q":0.1},
{"n":1889,"I":0.1,"Q":1.0},{"n":1890,"I":-1.1,"Q":1.6},{"n":1891,"I":0.4,"Q":0.2},{"n":1892,"I":0.6,"Q":-0.1},{"n":1893,"I":-0.7,"Q":1.5},{"n":1894,"I":-0.4,"Q":0.9},{"n":1895,"I":0.5,"Q":0.4},{"n":1896,"I":-1.0,"Q":0.9},
{"n":1897,"I":-0.1,"Q":0.6},{"n":1898,"I":0.8,"Q":0.8},{"n":1899,"I":1.2,"Q":1.9},{"n":1900,"I":0.0,"Q":0.4},{"n":1901,"I":1.6,"Q":1.3},{"n":1902,"I":1.0,"Q":1.6},{"n":1903,"I":0.1,"Q":0.1},{"n":1904,"I":1.0,"Q":1.3},
{"n":1905,"I":1.5,"Q":1.6},{"n":1906,"I":1.0,"Q":0.2},{"n":1907,"I":-0.1,"Q":1.1},{"n":1908,"I":0.3,"Q":1.7},{"n":1909,"I":1.2,"Q":0.4},{"n":1910,"I":-0.3,"Q":0.6},{"n":1911,"I":0.7,"Q":1.9},{"n":1912,"I":0.5,"Q":0.5}
    ],
    "avg": [
{"n":1,"I":0.15,"Q":0.05},{"n":2,"I":1.2,"Q":0.12},{"n":3,"I":0.66,"Q":0.97},{"n":4,"I":0.35,"Q":0.85},{"n":5,"I":-0.3,"Q":1.0},{"n":6,"I":-1.26,"Q":0.5},{"n":7,"I":-1.1,"Q":0.45},{"n":8,"I":-0.9,"Q":-0.6},{"n":9,"I":-0.2,"Q":-0.65},{"n":10,"I":0.05,"Q":-1.1},
{"n":11,"I":0.9,"Q":-1.22},{"n":12,"I":0.95,"Q":-0.9},{"n":13,"I":0.78,"Q":-0.55},{"n":14,"I":0.62,"Q":-0.1},{"n":15,"I":0.15,"Q":0.4},{"n":16,"I":-0.05,"Q":1.0},{"n":17,"I":-0.45,"Q":0.72},{"n":18,"I":-0.95,"Q":0.82},{"n":19,"I":-1.05,"Q":0.45},{"n":20,"I":-0.9,"Q":-0.55},
{"n":21,"I":-0.65,"Q":-1.0},{"n":22,"I":-0.3,"Q":-0.6},{"n":23,"I":0.5,"Q":-1.17},{"n":24,"I":1.07,"Q":-0.8},{"n":25,"I":0.69,"Q":-0.15},{"n":26,"I":1.05,"Q":0.15},{"n":27,"I":0.88,"Q":1.12},{"n":28,"I":-0.45,"Q":1.1},{"n":29,"I":-0.75,"Q":0.98},{"n":30,"I":-1.35,"Q":0.28},
{"n":31,"I":-1.15,"Q":0.16},{"n":32,"I":-0.65,"Q":-0.35},{"n":33,"I":-0.3,"Q":-0.55},{"n":34,"I":0.2,"Q":-0.82},{"n":35,"I":0.9,"Q":-0.8},{"n":36,"I":0.92,"Q":-0.47},{"n":37,"I":1.35,"Q":-0.1},{"n":38,"I":0.85,"Q":0.69},{"n":39,"I":0.1,"Q":0.22},{"n":40,"I":-0.4,"Q":1.13},
{"n":41,"I":-1.2,"Q":0.88},{"n":42,"I":-1.05,"Q":0.82},{"n":43,"I":-0.85,"Q":0.28},{"n":44,"I":-0.4,"Q":-0.38},{"n":45,"I":0.1,"Q":-0.47},{"n":46,"I":0.6,"Q":-1.26},{"n":47,"I":0.82,"Q":-1.1},{"n":48,"I":0.88,"Q":-0.47},{"n":49,"I":0.82,"Q":-0.38},{"n":50,"I":0.45,"Q":0.25},
{"n":51,"I":0.5,"Q":0.44},{"n":52,"I":-0.15,"Q":1.23},{"n":53,"I":-0.8,"Q":0.76},{"n":54,"I":-0.75,"Q":0.72},{"n":55,"I":-1.05,"Q":0.03},{"n":56,"I":-0.65,"Q":-0.66},{"n":57,"I":0.1,"Q":-0.85},{"n":58,"I":0.15,"Q":-0.9},{"n":59,"I":0.2,"Q":-0.65},{"n":60,"I":1.3,"Q":-0.6},
{"n":61,"I":0.72,"Q":-0.3},{"n":62,"I":0.63,"Q":0.47},{"n":63,"I":0.22,"Q":0.2},{"n":64,"I":-0.4,"Q":1.07},{"n":65,"I":-1.04,"Q":1.04},{"n":66,"I":-0.88,"Q":0.7},{"n":67,"I":-1.0,"Q":0.25},{"n":68,"I":-0.95,"Q":-0.4},{"n":69,"I":-0.54,"Q":-0.98},{"n":70,"I":0.45,"Q":-0.98},
{"n":71,"I":0.85,"Q":-0.65},{"n":72,"I":0.76,"Q":-0.98},{"n":73,"I":1.0,"Q":-0.2},{"n":74,"I":0.85,"Q":0.3},{"n":75,"I":0.41,"Q":1.29},{"n":76,"I":-0.2,"Q":1.0},{"n":77,"I":-0.47,"Q":0.91},{"n":78,"I":-0.54,"Q":0.5},{"n":79,"I":-0.98,"Q":0.1},{"n":80,"I":-1.13,"Q":-0.3},
{"n":81,"I":-0.5,"Q":-0.7},{"n":82,"I":0.2,"Q":-1.07},{"n":83,"I":0.35,"Q":-0.66},{"n":84,"I":0.6,"Q":-0.79},{"n":85,"I":1.29,"Q":-0.6},{"n":86,"I":0.65,"Q":0.3},{"n":87,"I":0.6,"Q":0.94},{"n":88,"I":0.2,"Q":0.76},{"n":89,"I":-0.5,"Q":0.85},{"n":90,"I":-1.45,"Q":0.5},
{"n":91,"I":-1.25,"Q":-0.3},{"n":92,"I":-0.8,"Q":-0.65},{"n":93,"I":-0.28,"Q":-0.76},{"n":94,"I":-0.13,"Q":-0.45},{"n":95,"I":0.3,"Q":-0.76},{"n":96,"I":0.98,"Q":-0.3},{"n":97,"I":0.79,"Q":0.3},{"n":98,"I":1.04,"Q":0.79},{"n":99,"I":0.0,"Q":0.75},{"n":100,"I":-0.06,"Q":0.69},
{"n":101,"I":-0.82,"Q":0.69},{"n":102,"I":-0.88,"Q":0.4},{"n":103,"I":-1.13,"Q":-0.1},{"n":104,"I":-0.7,"Q":-0.45},{"n":105,"I":-0.2,"Q":-0.8},{"n":106,"I":0.28,"Q":-0.98},{"n":107,"I":0.98,"Q":-0.55},{"n":108,"I":1.04,"Q":0.0},{"n":109,"I":0.91,"Q":0.22},{"n":110,"I":0.6,"Q":0.75},
{"n":111,"I":0.44,"Q":0.98},{"n":112,"I":0.0,"Q":0.98},{"n":113,"I":-0.55,"Q":0.91},{"n":114,"I":-1.0,"Q":0.3},{"n":115,"I":-0.6,"Q":-0.4},{"n":116,"I":-0.85,"Q":-0.79},{"n":117,"I":0.28,"Q":-0.8},{"n":118,"I":0.35,"Q":-0.88},{"n":119,"I":0.65,"Q":-0.65},{"n":120,"I":0.7,"Q":0.03},
{"n":121,"I":0.85,"Q":-0.47},{"n":122,"I":0.6,"Q":-0.54},{"n":123,"I":0.15,"Q":-0.79},{"n":124,"I":-0.4,"Q":-0.63},{"n":125,"I":-0.85,"Q":-0.6},{"n":126,"I":-1.1,"Q":-0.3},{"n":127,"I":-1.05,"Q":0.35},{"n":128,"I":-1.0,"Q":0.79},{"n":129,"I":-0.3,"Q":0.72},{"n":130,"I":0.3,"Q":1.04},
{"n":131,"I":0.54,"Q":0.85},{"n":132,"I":0.8,"Q":0.35},{"n":133,"I":0.91,"Q":-0.28},{"n":134,"I":0.65,"Q":-0.69},{"n":135,"I":0.35,"Q":-1.13},{"n":136,"I":-0.22,"Q":-1.04},{"n":137,"I":-0.54,"Q":-0.8},{"n":138,"I":-1.0,"Q":-0.1},{"n":139,"I":-0.95,"Q":0.5},{"n":140,"I":-0.6,"Q":0.88},
{"n":141,"I":-0.4,"Q":0.88},{"n":142,"I":0.4,"Q":0.79},{"n":143,"I":0.54,"Q":0.82},{"n":144,"I":0.79,"Q":0.3},{"n":145,"I":1.07,"Q":-0.35},{"n":146,"I":0.55,"Q":-0.65},{"n":147,"I":-0.16,"Q":-0.9},{"n":148,"I":-0.08,"Q":-1.2},{"n":149,"I":-0.7,"Q":-0.33},{"n":150,"I":-1.29,"Q":-0.16},
{"n":151,"I":-0.98,"Q":0.22},{"n":152,"I":-0.5,"Q":0.38},{"n":153,"I":-0.91,"Q":0.76},{"n":154,"I":0.09,"Q":1.2},{"n":155,"I":0.41,"Q":0.6},{"n":156,"I":1.42,"Q":0.28},{"n":157,"I":1.17,"Q":-0.25},{"n":158,"I":0.85,"Q":-0.85},{"n":159,"I":0.6,"Q":-0.95},{"n":160,"I":0.09,"Q":-1.1},
{"n":161,"I":-0.55,"Q":-0.95},{"n":162,"I":-1.04,"Q":-0.22},{"n":163,"I":-0.54,"Q":-0.03},{"n":164,"I":-0.66,"Q":0.79},{"n":165,"I":-0.6,"Q":1.1},{"n":166,"I":0.4,"Q":0.7},{"n":167,"I":0.98,"Q":0.54},{"n":168,"I":1.04,"Q":0.3},{"n":169,"I":1.23,"Q":-0.2},{"n":170,"I":0.6,"Q":-0.85},
{"n":171,"I":0.09,"Q":-0.98},{"n":172,"I":0.06,"Q":-1.07},{"n":173,"I":-0.6,"Q":-0.91},{"n":174,"I":-0.98,"Q":-0.72},{"n":175,"I":-1.23,"Q":0.3},{"n":176,"I":-0.28,"Q":0.91},{"n":177,"I":-0.13,"Q":0.66},{"n":178,"I":0.2,"Q":1.29},{"n":179,"I":0.77,"Q":0.98},{"n":180,"I":0.98,"Q":0.1},
{"n":181,"I":1.04,"Q":-0.4},{"n":182,"I":1.17,"Q":-0.91},{"n":183,"I":0.47,"Q":-0.82},{"n":184,"I":0.1,"Q":-1.39},{"n":185,"I":-0.4,"Q":-0.85},{"n":186,"I":-0.98,"Q":-0.4},{"n":187,"I":-1.48,"Q":0.54},{"n":188,"I":-0.9,"Q":0.79},{"n":189,"I":0.0,"Q":0.91},{"n":190,"I":0.41,"Q":0.8},
{"n":191,"I":0.88,"Q":0.69},{"n":192,"I":0.75,"Q":0.1},{"n":193,"I":0.98,"Q":-0.22},{"n":194,"I":0.4,"Q":-0.91},{"n":195,"I":0.1,"Q":-0.95},{"n":196,"I":-0.09,"Q":-1.13},{"n":197,"I":-0.5,"Q":-0.9},{"n":198,"I":-0.72,"Q":-0.3},{"n":199,"I":-0.5,"Q":0.47},{"n":200,"I":-0.54,"Q":1.07},
{"n":201,"I":0.0,"Q":0.85},{"n":202,"I":0.22,"Q":0.76},{"n":203,"I":0.6,"Q":0.2},{"n":204,"I":0.85,"Q":0.41},{"n":205,"I":0.76,"Q":-0.35},{"n":206,"I":0.76,"Q":-0.41},{"n":207,"I":0.2,"Q":-0.55},{"n":208,"I":-0.45,"Q":-0.7},{"n":209,"I":-1.1,"Q":-0.91},{"n":210,"I":-1.26,"Q":0.22},
{"n":211,"I":-1.17,"Q":-0.03},{"n":212,"I":-0.7,"Q":0.5},{"n":213,"I":-0.3,"Q":1.07},{"n":214,"I":0.2,"Q":0.5},{"n":215,"I":0.65,"Q":0.88},{"n":216,"I":1.29,"Q":0.5},{"n":217,"I":1.2,"Q":-0.15},{"n":218,"I":0.6,"Q":-0.55},{"n":219,"I":0.38,"Q":-1.07},{"n":220,"I":-0.41,"Q":-0.91},
{"n":221,"I":-0.44,"Q":-0.98},{"n":222,"I":-1.04,"Q":-0.2},{"n":223,"I":-1.04,"Q":0.2},{"n":224,"I":-0.5,"Q":0.76},{"n":225,"I":0.16,"Q":0.63},{"n":226,"I":0.4,"Q":0.98},{"n":227,"I":0.6,"Q":0.75},{"n":228,"I":1.07,"Q":0.3},{"n":229,"I":1.1,"Q":-0.28},{"n":230,"I":0.6,"Q":-0.6},
{"n":231,"I":0.47,"Q":-0.85},{"n":232,"I":-0.28,"Q":-1.0},{"n":233,"I":-0.9,"Q":-0.22},{"n":234,"I":-0.95,"Q":-0.47},{"n":235,"I":-1.2,"Q":0.57},{"n":236,"I":-0.54,"Q":0.79},{"n":237,"I":-0.16,"Q":0.82},{"n":238,"I":0.69,"Q":0.98},{"n":239,"I":0.63,"Q":0.98}
    ]
  },
  "vconcat": [
    {
      "width": 1165,
      "height": 239,
      "data": {"name": "raw"},
      "transform": [{"fold": ["I", "Q"], "as": ["part", "value"]}],
      "mark": {"type": "line", "strokeWidth": 4.5, "strokeJoin": "round", "strokeCap": "round"},
      "encoding": {
        "x": {
          "field": "n", "type": "quantitative",
          "scale": {"domain": [0.5, 1912.5], "nice": false, "zero": false},
          "axis": {
            "values": [1,51,101,151,201,251,301,351,401,451,501,551,601,651,701,751,801,851,901,951,1001,1051,1101,1151,1201,1251,1301,1351,1401,1451,1501,1551,1601,1651,1701,1751,1801,1851,1901],
            "format": "d", "labelAngle": -90, "labelFontSize": 22, "labelPadding": 19,
            "labelOverlap": false, "labelFlush": false, "grid": false, "ticks": false, "domain": false,
            "title": "Коэффициент шума 1,0 чисто белый шум",
            "titleX": 557, "titleY": -309, "titleAngle": 0, "titleAlign": "center", "titleBaseline": "alphabetic",
            "titleFont": "Open Sans", "titleFontSize": 23, "titleFontWeight": "normal", "titleLimit": 0
          }
        },
        "y": {
          "field": "value", "type": "quantitative",
          "scale": {"domain": [-3, 3], "nice": false},
          "axis": {
            "values": [-3, -2, -1, 0, 1, 2, 3],
            "labelFontSize": 22, "labelPadding": 10,
            "grid": true, "gridColor": "#7F7F7F", "gridWidth": 1.5,
            "ticks": false, "domain": false,
            "title": "а)", "titleAngle": 0, "titleX": -13, "titleY": -79,
            "titleAlign": "center", "titleBaseline": "middle",
            "titleFont": "Liberation Serif", "titleFontStyle": "italic", "titleFontWeight": "normal", "titleFontSize": 34
          }
        },
        "color": {
          "field": "part", "type": "nominal",
          "scale": {"domain": ["I", "Q"], "range": ["#EF8038", "#5196D2"]},
          "legend": {
            "orient": "none", "legendX": 205, "legendY": -50, "direction": "horizontal", "padding": 0, "title": null,
            "labelExpr": "datum.value == 'I' ? 'Ii' : 'Qi'",
            "labelFontSize": 23, "labelFontStyle": "italic", "labelLimit": 0, "labelOffset": 66,
            "labelColor": {"expr": "datum.value == 'I' ? '#EF8038' : '#5196D2'"},
            "symbolType": "M-1,1.1L7,1.1", "symbolSize": 400, "symbolStrokeWidth": 2.5,
            "columnPadding": 301
          }
        },
        "strokeDash": {
          "field": "part", "type": "nominal",
          "scale": {"domain": ["I", "Q", "-"], "range": [[100000, 0], [100000, 0], [100000, 0]]},
          "legend": {
            "orient": "none", "legendX": 289, "legendY": -50, "direction": "horizontal", "padding": 0, "title": null,
            "values": ["I", "Q"],
            "labelExpr": "datum.value == 'I' ? '— действительная часть,' : '— мнимая часть'",
            "labelFontSize": 23, "labelColor": "#231F20", "labelLimit": 0, "labelOffset": 0,
            "symbolSize": 1, "symbolStrokeWidth": 0, "symbolOpacity": 0,
            "columnPadding": 113
          }
        }
      }
    },
    {
      "width": 1161,
      "height": 212,
      "data": {"name": "avg"},
      "transform": [{"fold": ["I", "Q"], "as": ["part", "value"]}],
      "resolve": {"axis": {"x": "independent"}},
      "layer": [
        {
          "mark": {"type": "line", "strokeWidth": 4, "strokeJoin": "round", "strokeCap": "round"},
          "encoding": {
            "x": {
              "field": "n", "type": "quantitative",
              "scale": {"domain": [0.5, 239.5], "nice": false, "zero": false},
              "axis": {
                "values": [1,8,15,22,29,36,43,50,57,64,71,78,85,92,99,106,113,120,127,134,141,148,155,162,169,176,183,190,197,204,211,218,225,232,239],
                "format": "d", "labelAngle": -90, "labelFontSize": 22, "labelPadding": 14,
                "labelOverlap": false, "labelFlush": false, "grid": false, "ticks": false, "domain": false,
                "title": "Коэффициент шума 1,0 чисто белый шум",
                "titleX": 568, "titleY": -305, "titleAngle": 0, "titleAlign": "center", "titleBaseline": "alphabetic",
                "titleFont": "Open Sans", "titleFontSize": 23, "titleFontWeight": "normal", "titleLimit": 0
              }
            },
            "y": {
              "field": "value", "type": "quantitative",
              "scale": {"domain": [-2, 2], "nice": false},
              "axis": {
                "values": [-2, -1, 0, 1, 2],
                "labelFontSize": 22, "labelPadding": 10,
                "grid": true, "gridColor": "#7F7F7F", "gridWidth": 1.5,
                "ticks": false, "domain": false,
                "title": "б)", "titleAngle": 0, "titleX": -11, "titleY": -102,
                "titleAlign": "center", "titleBaseline": "middle",
                "titleFont": "Liberation Serif", "titleFontStyle": "italic", "titleFontWeight": "normal", "titleFontSize": 34
              }
            },
            "color": {
              "field": "part", "type": "nominal",
              "scale": {"domain": ["I", "Q"], "range": ["#EF8038", "#5196D2"]},
              "legend": {
                "orient": "none", "legendX": 208, "legendY": -72, "direction": "horizontal", "padding": 0, "title": null,
                "labelExpr": "datum.value == 'I' ? 'Ii' : 'Qi'",
                "labelFontSize": 23, "labelFontStyle": "italic", "labelLimit": 0, "labelOffset": 66,
                "labelColor": {"expr": "datum.value == 'I' ? '#EF8038' : '#5196D2'"},
                "symbolType": "M-1,1.1L7,1.1", "symbolSize": 400, "symbolStrokeWidth": 2.5,
                "columnPadding": 300
              }
            },
            "strokeDash": {
              "field": "part", "type": "nominal",
              "scale": {"domain": ["I", "Q", "-"], "range": [[100000, 0], [100000, 0], [100000, 0]]},
              "legend": {
                "orient": "none", "legendX": 293, "legendY": -72, "direction": "horizontal", "padding": 0, "title": null,
                "values": ["I", "Q"],
                "labelExpr": "datum.value == 'I' ? '— действительная часть,' : '— мнимая часть'",
                "labelFontSize": 23, "labelColor": "#231F20", "labelLimit": 0, "labelOffset": 0,
                "symbolSize": 1, "symbolStrokeWidth": 0, "symbolOpacity": 0,
                "columnPadding": 107
              }
            }
          }
        },
        {
          "mark": {"type": "rule", "strokeOpacity": 0},
          "encoding": {
            "x": {
              "field": "n", "type": "quantitative",
              "scale": {"domain": [0.5, 239.5], "nice": false, "zero": false},
              "axis": {
                "orient": "top", "labels": false, "ticks": false, "domain": false, "grid": false,
                "title": "каждый отсчёт — среднее арифметическое соседних восьми отсчётов",
                "titleX": 567, "titleY": -23, "titleAngle": 0, "titleAlign": "center", "titleBaseline": "alphabetic",
                "titleFont": "Open Sans", "titleFontSize": 23.5, "titleFontWeight": "normal", "titleLimit": 0
              }
            }
          }
        }
      ]
    }
  ]
}
